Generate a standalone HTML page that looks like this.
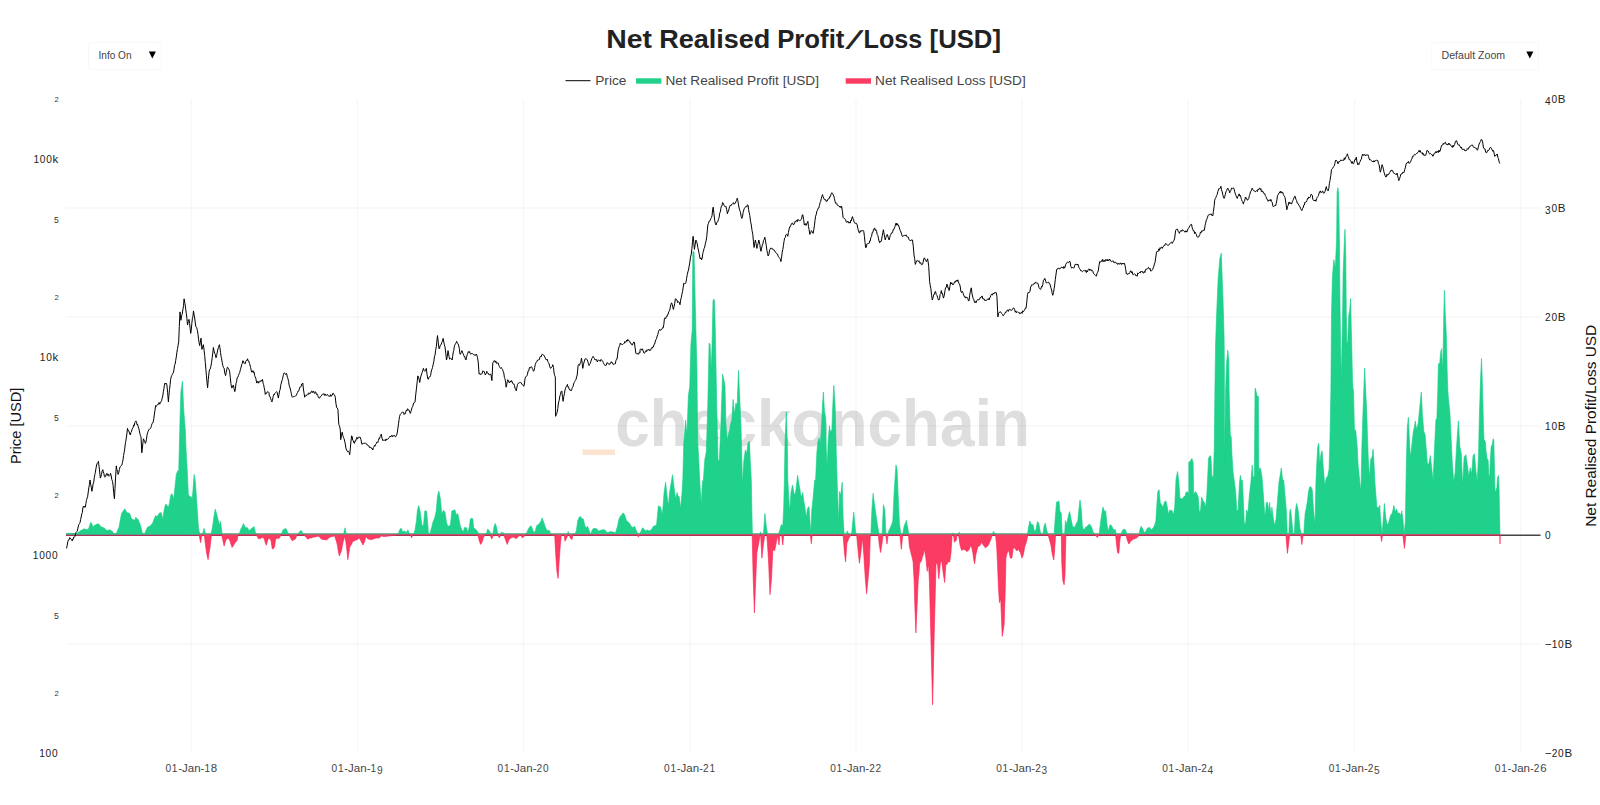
<!DOCTYPE html>
<html lang="en"><head><meta charset="utf-8"><title>Net Realised Profit/Loss [USD]</title>
<style>html,body{margin:0;padding:0;background:#fff;}body{width:1600px;height:805px;position:relative;overflow:hidden;font-family:'Liberation Sans', Arial, sans-serif;}</style>
</head><body>
<svg width="1600" height="805" viewBox="0 0 1600 805" style="position:absolute;left:0;top:0;font-family:'Liberation Sans', Arial, sans-serif"><rect width="1600" height="805" fill="#fff"/><rect x="582.5" y="449.5" width="32.5" height="5.5" fill="#fde4d0"/><text x="615.2" y="445.6" font-size="67" font-weight="700" fill="#dedede" textLength="414.8" lengthAdjust="spacingAndGlyphs">checkonchain</text><line x1="191.3" x2="191.3" y1="99" y2="753" stroke="rgba(0,0,0,0.032)" stroke-width="1.5"/><line x1="357.4" x2="357.4" y1="99" y2="753" stroke="rgba(0,0,0,0.032)" stroke-width="1.5"/><line x1="523.4" x2="523.4" y1="99" y2="753" stroke="rgba(0,0,0,0.032)" stroke-width="1.5"/><line x1="689.9" x2="689.9" y1="99" y2="753" stroke="rgba(0,0,0,0.032)" stroke-width="1.5"/><line x1="856.0" x2="856.0" y1="99" y2="753" stroke="rgba(0,0,0,0.032)" stroke-width="1.5"/><line x1="1022.0" x2="1022.0" y1="99" y2="753" stroke="rgba(0,0,0,0.032)" stroke-width="1.5"/><line x1="1188.1" x2="1188.1" y1="99" y2="753" stroke="rgba(0,0,0,0.032)" stroke-width="1.5"/><line x1="1354.6" x2="1354.6" y1="99" y2="753" stroke="rgba(0,0,0,0.032)" stroke-width="1.5"/><line x1="1520.7" x2="1520.7" y1="99" y2="753" stroke="rgba(0,0,0,0.032)" stroke-width="1.5"/><line x1="66" x2="1540.5" y1="208" y2="208" stroke="rgba(0,0,0,0.032)" stroke-width="1.5"/><line x1="66" x2="1540.5" y1="317" y2="317" stroke="rgba(0,0,0,0.032)" stroke-width="1.5"/><line x1="66" x2="1540.5" y1="426" y2="426" stroke="rgba(0,0,0,0.032)" stroke-width="1.5"/><line x1="66" x2="1540.5" y1="644" y2="644" stroke="rgba(0,0,0,0.032)" stroke-width="1.5"/><line x1="66" x2="1540.5" y1="535.2" y2="535.2" stroke="#444" stroke-width="1.6"/><line x1="66" x2="1500" y1="533.95" y2="533.95" stroke="#5f9d83" stroke-width="1.2"/><line x1="66" x2="1500" y1="535.25" y2="535.25" stroke="#a6335a" stroke-width="1.5"/><path d="M66.6,533.4L67.5,533.4L68.4,533.4L69.4,533.5L70.3,533.4L71.3,533.4L72.2,533.4L73.1,533.4L74.1,533.4L75.0,533.5L75.9,533.5L76.9,533.4L77.8,532.6L78.8,532.0L79.7,531.2L80.6,530.6L81.6,530.3L82.5,529.8L83.4,528.9L84.4,528.8L85.3,529.4L86.3,529.6L87.2,529.6L88.1,529.7L89.1,527.3L90.0,524.2L90.9,522.2L91.9,523.9L92.8,526.9L93.8,526.3L94.7,525.1L95.6,525.0L96.6,524.3L97.5,524.0L98.4,524.1L99.4,524.4L100.3,525.9L101.3,526.9L102.2,527.1L103.1,527.8L104.1,527.8L105.0,528.8L105.9,529.8L106.9,530.6L107.8,530.3L108.8,530.1L109.7,529.7L110.6,530.3L111.6,530.8L112.5,531.6L113.4,533.1L114.4,534.4L115.3,533.9L116.3,533.4L117.2,531.4L118.1,529.2L119.1,526.9L120.3,519.9L121.5,513.8L122.4,511.9L123.4,511.0L124.3,509.2L125.3,509.6L126.4,512.1L127.5,512.8L128.6,513.0L129.8,513.8L131.0,517.4L132.2,519.4L133.1,519.6L134.1,520.3L135.0,519.7L135.9,517.1L136.9,519.3L137.8,518.9L138.8,521.3L139.7,523.2L140.6,525.9L141.6,530.0L142.5,533.4L143.4,533.7L144.4,534.0L145.3,532.1L146.3,529.8L147.2,527.8L148.1,526.8L149.1,526.7L150.0,525.9L150.9,525.4L151.9,523.7L152.8,523.1L153.8,519.8L154.7,517.7L155.6,515.6L156.6,516.6L157.5,515.7L158.4,514.7L159.4,513.0L160.3,512.7L161.3,512.8L162.8,519.4L163.9,511.6L165.0,506.3L165.9,504.0L166.9,505.3L168.4,507.2L169.5,502.9L170.6,495.9L171.6,493.7L172.5,495.0L173.8,498.8L175.0,486.9L176.3,474.4L177.8,470.6L178.7,472.5L180.0,420.0L180.9,391.9L182.4,381.2L183.8,411.2L185.3,429.9L186.0,448.1L187.5,476.3L188.4,495.0L189.4,495.7L190.3,496.9L191.3,496.7L192.2,499.7L193.1,488.4L194.1,474.4L195.4,481.9L196.9,504.4L198.4,526.9L199.7,534.4L202.5,534.4L204.0,528.4L204.9,531.4L205.9,534.4L210.9,534.4L211.9,530.0L212.8,525.0L214.0,516.1L215.3,509.1L216.4,513.0L217.5,517.5L218.4,520.7L219.4,525.0L220.5,521.3L222.2,534.4L239.1,534.4L240.0,531.7L240.9,528.8L242.2,526.7L243.4,523.5L244.5,526.0L245.6,527.8L246.6,527.6L247.5,527.8L248.4,529.5L249.4,530.6L250.3,529.5L251.3,528.8L252.2,527.9L253.1,527.6L254.1,526.5L255.0,530.7L255.9,534.4L281.3,534.4L282.2,532.1L283.1,529.7L284.1,529.6L285.0,528.6L285.9,528.4L286.9,530.4L287.8,532.7L288.8,534.4L297.2,534.4L298.1,533.6L299.1,532.4L300.0,531.2L300.9,530.3L301.9,531.6L302.8,533.3L303.8,534.4L343.5,534.4L345.0,527.8L346.3,534.4L398.1,534.4L399.6,530.0L401.1,528.1L402.8,531.9L403.8,531.3L404.7,530.9L406.0,532.8L406.9,531.4L407.9,530.0L408.8,532.3L409.8,534.4L413.7,534.4L415.0,530.0L416.5,520.6L417.4,510.3L418.8,505.6L420.3,512.2L421.8,524.4L423.4,526.3L424.8,510.9L425.7,510.9L426.6,511.3L427.8,524.4L428.5,534.4L430.0,534.4L430.9,530.0L431.9,526.8L432.8,522.5L433.8,520.1L434.7,517.8L436.2,511.3L437.5,496.3L438.8,491.0L440.3,498.1L441.8,514.1L443.5,510.3L445.0,512.2L446.5,522.5L447.8,526.3L449.0,525.9L450.3,525.3L451.9,510.9L453.4,510.3L454.9,509.8L456.3,515.0L457.8,513.5L459.1,519.7L460.4,526.3L461.9,530.0L463.4,531.5L464.7,527.2L465.6,527.8L466.6,527.8L467.9,532.8L469.4,526.3L470.3,519.1L471.5,518.3L472.8,518.8L473.7,528.1L475.4,529.1L476.6,530.3L477.8,531.9L479.1,534.4L486.3,534.4L487.6,529.1L489.1,530.4L490.4,532.8L491.5,534.4L492.8,534.4L494.1,526.3L495.3,523.4L496.6,527.2L497.9,534.4L500.3,534.4L501.6,532.3L502.6,532.6L503.5,532.8L504.6,534.4L525.6,534.4L526.6,532.9L527.5,530.9L528.4,528.9L529.4,527.2L530.3,526.2L531.3,525.9L532.2,528.6L533.1,530.9L534.6,532.8L535.6,529.8L536.5,526.3L537.4,524.9L538.4,524.4L539.3,524.0L540.3,522.1L541.2,520.7L542.1,517.8L543.8,522.5L544.8,525.4L545.7,528.1L546.7,529.5L547.8,530.9L549.1,530.0L550.0,532.2L550.9,534.4L566.9,534.4L568.2,531.5L569.1,534.4L574.8,534.4L576.3,530.9L577.8,520.6L579.4,516.9L580.7,516.7L581.9,518.8L583.4,519.1L584.7,525.3L586.2,528.1L587.5,526.3L589.0,530.0L590.3,534.4L591.3,532.5L592.2,530.0L593.1,528.9L594.1,528.1L595.0,528.6L595.9,528.6L596.9,529.1L597.8,530.2L598.8,530.9L599.7,530.7L600.6,530.2L601.6,530.0L602.5,529.7L603.4,529.9L604.4,529.6L605.3,530.5L606.3,531.6L607.2,532.8L608.1,532.4L609.1,532.1L610.0,531.5L610.9,531.7L611.9,531.7L612.8,531.9L613.8,532.3L614.7,532.4L615.6,532.8L616.6,529.2L617.5,526.3L619.0,519.1L620.0,516.9L620.9,515.4L621.9,515.0L622.8,513.1L623.8,513.5L624.7,515.0L625.6,518.0L626.6,520.6L627.5,521.7L628.4,521.9L629.4,523.4L630.3,524.5L631.3,526.4L632.2,527.2L633.4,527.2L634.6,526.3L635.8,529.2L636.9,531.9L638.4,534.4L639.3,533.8L640.3,532.8L641.4,530.3L642.5,527.8L643.4,528.5L644.4,529.6L645.3,530.9L646.5,530.2L647.8,530.0L648.9,530.7L650.0,530.9L650.9,529.8L651.9,528.8L652.8,527.2L653.8,526.0L654.7,525.9L655.6,525.3L656.6,524.4L657.5,515.0L658.4,505.6L659.4,507.0L660.3,506.6L661.3,510.2L662.2,515.0L663.1,505.9L664.1,492.5L665.6,482.2L666.9,494.4L668.4,506.6L669.3,495.0L670.3,487.8L671.4,481.5L672.5,474.7L674.0,486.9L675.3,497.2L676.3,496.2L677.2,492.5L678.1,496.6L679.1,496.3L680.6,508.4L681.9,494.4L682.8,479.9L683.8,442.5L684.7,432.7L685.6,420.0L686.9,435.0L688.4,395.6L689.8,386.2L690.9,345.0L692.2,330.0L692.8,255.0L693.1,251.2L694.1,252.2L695.0,292.3L695.9,330.0L696.9,367.5L697.3,405.0L697.8,442.5L698.8,461.2L699.7,480.0L701.2,504.7L702.5,481.3L703.4,480.0L704.8,459.4L706.3,451.9L707.8,405.0L709.1,343.1L710.0,344.1L711.3,371.2L712.4,330.0L713.0,300.9L713.8,299.1L714.5,300.9L715.3,330.0L716.0,367.5L717.1,423.7L718.1,461.2L719.4,459.4L720.9,423.7L722.6,374.1L723.7,378.7L725.0,386.2L725.9,423.7L727.3,440.6L728.8,433.1L729.7,430.2L730.6,423.7L731.9,420.0L733.1,399.4L734.4,414.4L735.9,403.1L737.2,405.0L738.5,370.3L739.6,395.6L740.9,423.7L741.9,461.2L742.4,485.0L743.8,461.2L745.3,450.0L746.6,453.7L748.1,442.5L749.4,441.6L750.3,461.2L751.3,480.0L751.8,507.5L752.4,534.4L759.7,534.4L760.6,531.9L761.6,534.4L763.4,534.4L764.9,513.5L766.3,526.3L767.6,534.4L778.4,534.4L779.8,530.0L781.3,524.4L782.8,526.3L783.7,507.5L784.4,479.9L785.0,442.5L786.3,411.9L787.3,442.5L787.8,480.0L788.8,498.1L789.7,512.2L791.0,492.5L792.5,485.0L794.0,493.4L794.9,494.5L795.9,490.6L797.6,475.3L799.1,485.0L800.0,489.7L800.9,496.3L801.9,495.4L802.8,492.5L803.8,501.0L804.7,505.6L806.2,517.8L807.5,508.4L809.0,506.6L810.3,526.3L810.9,531.9L811.8,510.3L813.1,498.1L814.6,480.3L815.6,480.0L816.9,451.9L817.8,442.5L819.1,437.8L820.3,444.4L821.6,423.7L822.5,405.0L823.4,391.9L824.4,410.6L825.7,418.1L826.3,450.0L827.2,466.9L828.1,442.5L829.4,425.6L830.4,432.2L831.9,429.4L832.8,405.0L833.8,385.3L835.1,405.0L836.0,442.5L837.1,480.0L838.1,507.5L838.8,522.5L839.4,491.6L840.7,495.3L842.2,482.2L843.1,516.9L844.1,534.4L845.9,534.4L847.3,530.9L848.8,534.4L851.6,534.4L852.5,524.4L853.8,512.2L854.9,524.4L855.9,534.4L870.9,534.4L871.8,511.3L873.1,493.4L874.4,503.8L875.9,514.1L877.4,524.4L878.8,532.8L879.7,533.8L880.6,534.4L882.1,534.4L883.4,504.7L884.8,509.4L885.9,533.8L886.8,534.2L887.8,534.4L889.1,530.0L890.0,528.4L890.9,526.3L891.9,524.0L892.8,520.6L894.1,492.5L895.6,470.0L896.0,464.9L897.1,470.0L898.1,494.4L899.4,522.5L900.7,533.8L901.6,534.2L902.6,534.4L904.1,526.3L905.2,523.4L906.3,520.3L907.8,528.1L908.8,534.4L952.1,534.4L953.1,532.8L954.0,534.4L958.5,534.4L959.4,531.9L960.4,534.4L992.3,534.4L993.4,531.5L994.3,532.4L995.3,533.4L996.6,534.4L1027.5,534.4L1028.4,528.1L1029.8,521.0L1031.3,524.4L1032.2,524.7L1033.1,524.8L1034.6,531.9L1035.9,530.0L1037.4,521.6L1038.8,523.4L1040.3,531.9L1041.6,534.4L1042.9,534.4L1044.0,526.3L1045.3,523.1L1046.6,530.0L1048.1,534.4L1054.1,534.4L1055.3,516.9L1056.6,501.9L1057.8,501.9L1059.0,500.9L1059.9,511.3L1061.3,513.1L1062.2,534.4L1064.6,534.4L1065.4,520.6L1066.5,524.4L1067.8,518.8L1068.8,514.1L1069.7,511.6L1071.0,518.8L1072.5,526.3L1073.4,526.9L1074.4,527.2L1075.3,525.9L1076.3,523.4L1077.8,521.0L1079.1,507.5L1080.0,500.0L1081.3,509.4L1082.4,526.3L1083.8,530.0L1084.7,528.9L1085.6,527.2L1086.6,526.8L1087.5,525.9L1088.4,524.8L1089.4,524.0L1090.3,525.4L1091.3,526.3L1092.2,529.1L1093.1,531.9L1094.1,533.3L1095.0,534.4L1099.1,534.4L1100.3,524.4L1101.6,515.0L1102.9,507.1L1104.4,511.3L1105.7,510.9L1106.8,522.5L1108.1,530.9L1109.1,528.2L1110.0,524.8L1110.9,525.0L1111.9,526.3L1112.8,528.3L1113.8,530.0L1115.3,529.6L1116.2,534.4L1120.9,534.4L1122.2,530.9L1123.1,529.7L1124.1,529.1L1125.6,530.0L1126.9,534.4L1139.1,534.4L1140.0,529.1L1141.3,526.3L1142.8,529.1L1144.3,532.8L1146.0,530.9L1147.5,528.1L1148.4,527.8L1149.4,527.2L1150.3,528.6L1151.3,530.0L1152.2,528.9L1153.1,528.1L1154.6,525.3L1155.9,520.6L1156.9,503.8L1157.8,491.6L1159.1,489.7L1160.3,502.8L1161.6,504.7L1163.1,507.5L1164.4,501.9L1165.9,500.9L1167.2,506.6L1168.5,514.1L1170.0,509.8L1170.9,510.7L1171.9,510.3L1173.4,515.0L1174.7,507.5L1176.0,479.4L1177.5,471.5L1178.8,481.3L1179.9,498.1L1180.9,498.6L1181.8,499.1L1182.9,498.2L1184.1,496.3L1185.0,496.7L1185.9,492.5L1187.4,491.6L1188.8,494.4L1188.8,462.2L1190.3,461.3L1191.8,458.4L1193.1,462.2L1193.7,495.0L1195.0,492.2L1195.9,491.7L1196.9,494.1L1198.2,496.9L1199.3,512.8L1200.6,510.0L1201.6,496.9L1202.9,500.6L1204.4,502.5L1205.7,507.2L1206.8,495.0L1207.8,474.4L1208.5,458.4L1210.0,455.6L1210.9,456.6L1211.9,476.3L1213.4,477.2L1214.3,446.3L1214.9,390.0L1215.6,343.1L1216.6,315.0L1218.1,279.4L1219.8,258.7L1221.3,253.1L1222.2,277.5L1223.1,301.9L1224.1,337.5L1224.4,371.2L1224.4,463.1L1225.6,390.0L1226.5,363.7L1227.8,350.2L1228.8,360.0L1229.1,390.0L1229.7,412.5L1230.3,435.0L1231.2,436.9L1231.9,453.8L1233.1,472.5L1234.4,481.9L1235.7,492.2L1236.8,510.9L1238.1,510.0L1239.4,483.8L1240.4,475.3L1241.5,481.9L1242.4,480.0L1243.4,502.5L1244.3,524.1L1245.6,523.1L1246.6,510.0L1247.9,512.8L1249.4,495.0L1250.9,481.9L1252.2,465.0L1253.1,477.2L1254.4,476.3L1255.0,390.0L1255.4,388.1L1256.9,395.6L1258.4,396.6L1258.8,472.5L1259.7,467.7L1260.6,468.8L1262.1,478.1L1263.4,495.0L1264.4,510.0L1265.3,517.5L1266.3,502.5L1267.6,502.5L1268.7,511.9L1269.6,502.5L1270.9,515.6L1271.9,507.2L1273.2,517.5L1274.7,525.9L1276.0,519.4L1277.5,500.6L1279.0,481.9L1280.3,474.4L1281.3,467.8L1282.6,480.0L1283.7,480.0L1285.0,495.0L1286.3,510.0L1287.3,534.4L1288.8,534.4L1289.7,511.9L1290.6,509.1L1291.9,521.3L1293.1,534.4L1294.4,534.4L1295.3,511.9L1296.6,503.4L1298.1,510.0L1299.1,519.0L1300.0,528.8L1301.5,534.4L1303.8,534.4L1305.1,513.8L1306.3,507.9L1307.5,500.6L1308.4,492.4L1309.4,487.5L1310.7,486.6L1312.2,489.4L1313.5,510.0L1315.0,525.0L1315.9,483.8L1316.9,461.3L1317.8,446.3L1318.8,443.4L1319.7,465.0L1321.0,453.8L1322.1,450.9L1323.4,468.8L1324.8,485.6L1326.3,478.1L1327.8,475.9L1329.1,468.8L1330.0,436.9L1330.9,390.0L1331.5,315.0L1332.4,277.5L1333.8,259.7L1335.3,268.1L1336.6,240.0L1337.1,192.2L1337.9,187.7L1338.6,193.1L1339.4,240.0L1339.9,296.2L1340.7,352.5L1341.3,380.6L1341.8,352.5L1342.6,315.0L1343.1,273.7L1344.4,240.0L1345.0,229.3L1345.8,258.7L1346.3,315.0L1346.9,344.1L1347.8,341.2L1348.8,315.0L1349.7,309.4L1350.6,298.5L1351.2,324.4L1351.9,352.5L1352.5,380.6L1353.1,390.0L1353.4,390.0L1354.4,429.4L1355.7,430.3L1357.2,446.3L1358.1,465.0L1359.6,480.0L1360.9,492.2L1361.9,446.3L1362.8,418.1L1363.8,390.0L1364.7,368.1L1365.6,390.0L1366.6,408.8L1367.5,436.9L1368.4,461.3L1369.4,478.1L1370.7,459.4L1372.2,456.6L1373.1,449.1L1374.1,465.0L1375.0,483.8L1375.9,495.0L1376.9,507.2L1378.4,508.1L1379.7,505.3L1380.6,519.4L1382.1,534.4L1383.1,521.3L1384.4,503.4L1385.7,517.5L1387.2,525.0L1388.5,523.1L1390.0,517.5L1390.9,514.8L1391.9,513.8L1392.8,510.9L1393.8,505.3L1395.3,511.9L1396.6,509.1L1398.1,513.8L1399.4,512.8L1400.9,515.6L1401.8,510.9L1403.1,521.3L1404.1,534.4L1405.4,521.3L1406.3,465.0L1407.3,427.5L1408.4,417.2L1409.7,446.3L1410.6,457.5L1412.1,442.5L1413.4,431.3L1414.4,427.1L1415.3,420.9L1416.6,429.4L1418.1,423.8L1419.6,408.8L1421.3,391.9L1422.4,414.4L1423.8,431.3L1425.1,435.0L1426.2,448.1L1427.5,465.0L1429.0,463.1L1430.3,455.6L1431.8,468.8L1433.1,480.9L1434.6,446.3L1435.9,420.0L1436.9,418.1L1437.8,390.0L1438.4,363.7L1439.7,363.7L1440.6,352.5L1441.6,348.7L1442.5,371.2L1443.1,352.5L1443.8,315.0L1444.4,290.2L1445.3,315.0L1446.3,333.7L1447.2,371.2L1447.8,390.0L1448.5,399.4L1450.0,414.4L1451.3,442.5L1452.4,465.0L1453.8,481.9L1455.1,472.5L1456.6,446.3L1457.5,433.1L1458.4,420.9L1459.8,446.3L1461.3,453.8L1462.6,485.6L1464.1,457.5L1465.0,455.7L1465.9,454.7L1467.3,465.0L1468.8,476.3L1470.3,467.8L1471.6,474.4L1473.1,455.6L1474.4,453.8L1475.9,470.6L1477.2,481.9L1478.5,455.6L1479.4,414.4L1479.8,402.5L1480.6,377.5L1481.5,358.5L1482.2,377.5L1482.9,402.5L1483.5,427.5L1484.0,440.0L1484.4,440.0L1485.4,441.9L1486.2,452.5L1487.1,458.8L1488.1,460.0L1488.8,475.0L1489.6,477.5L1490.4,458.8L1491.2,446.2L1492.2,445.0L1493.1,438.8L1493.8,440.0L1494.4,465.0L1495.0,492.5L1496.0,490.0L1496.9,487.5L1497.5,477.5L1498.5,475.6L1499.1,490.0L1499.6,515.0L1500.0,534.4L1500.0,534.4L66.6,534.4Z" fill="#1fd18b" stroke="none"/><path d="M66.6,533.4L67.5,533.4L68.4,533.4L69.4,533.5L70.3,533.4L71.3,533.4L72.2,533.4L73.1,533.4L74.1,533.4L75.0,533.5L75.9,533.5L76.9,533.4L77.8,532.6L78.8,532.0L79.7,531.2L80.6,530.6L81.6,530.3L82.5,529.8L83.4,528.9L84.4,528.8L85.3,529.4L86.3,529.6L87.2,529.6L88.1,529.7L89.1,527.3L90.0,524.2L90.9,522.2L91.9,523.9L92.8,526.9L93.8,526.3L94.7,525.1L95.6,525.0L96.6,524.3L97.5,524.0L98.4,524.1L99.4,524.4L100.3,525.9L101.3,526.9L102.2,527.1L103.1,527.8L104.1,527.8L105.0,528.8L105.9,529.8L106.9,530.6L107.8,530.3L108.8,530.1L109.7,529.7L110.6,530.3L111.6,530.8L112.5,531.6L113.4,533.1L114.4,534.4L115.3,533.9L116.3,533.4L117.2,531.4L118.1,529.2L119.1,526.9L120.3,519.9L121.5,513.8L122.4,511.9L123.4,511.0L124.3,509.2L125.3,509.6L126.4,512.1L127.5,512.8L128.6,513.0L129.8,513.8L131.0,517.4L132.2,519.4L133.1,519.6L134.1,520.3L135.0,519.7L135.9,517.1L136.9,519.3L137.8,518.9L138.8,521.3L139.7,523.2L140.6,525.9L141.6,530.0L142.5,533.4L143.4,533.7L144.4,534.0L145.3,532.1L146.3,529.8L147.2,527.8L148.1,526.8L149.1,526.7L150.0,525.9L150.9,525.4L151.9,523.7L152.8,523.1L153.8,519.8L154.7,517.7L155.6,515.6L156.6,516.6L157.5,515.7L158.4,514.7L159.4,513.0L160.3,512.7L161.3,512.8L162.8,519.4L163.9,511.6L165.0,506.3L165.9,504.0L166.9,505.3L168.4,507.2L169.5,502.9L170.6,495.9L171.6,493.7L172.5,495.0L173.8,498.8L175.0,486.9L176.3,474.4L177.8,470.6L178.7,472.5L180.0,420.0L180.9,391.9L182.4,381.2L183.8,411.2L185.3,429.9L186.0,448.1L187.5,476.3L188.4,495.0L189.4,495.7L190.3,496.9L191.3,496.7L192.2,499.7L193.1,488.4L194.1,474.4L195.4,481.9L196.9,504.4L198.4,526.9L199.7,534.4L202.5,534.4L204.0,528.4L204.9,531.4L205.9,534.4L210.9,534.4L211.9,530.0L212.8,525.0L214.0,516.1L215.3,509.1L216.4,513.0L217.5,517.5L218.4,520.7L219.4,525.0L220.5,521.3L222.2,534.4L239.1,534.4L240.0,531.7L240.9,528.8L242.2,526.7L243.4,523.5L244.5,526.0L245.6,527.8L246.6,527.6L247.5,527.8L248.4,529.5L249.4,530.6L250.3,529.5L251.3,528.8L252.2,527.9L253.1,527.6L254.1,526.5L255.0,530.7L255.9,534.4L281.3,534.4L282.2,532.1L283.1,529.7L284.1,529.6L285.0,528.6L285.9,528.4L286.9,530.4L287.8,532.7L288.8,534.4L297.2,534.4L298.1,533.6L299.1,532.4L300.0,531.2L300.9,530.3L301.9,531.6L302.8,533.3L303.8,534.4L343.5,534.4L345.0,527.8L346.3,534.4L398.1,534.4L399.6,530.0L401.1,528.1L402.8,531.9L403.8,531.3L404.7,530.9L406.0,532.8L406.9,531.4L407.9,530.0L408.8,532.3L409.8,534.4L413.7,534.4L415.0,530.0L416.5,520.6L417.4,510.3L418.8,505.6L420.3,512.2L421.8,524.4L423.4,526.3L424.8,510.9L425.7,510.9L426.6,511.3L427.8,524.4L428.5,534.4L430.0,534.4L430.9,530.0L431.9,526.8L432.8,522.5L433.8,520.1L434.7,517.8L436.2,511.3L437.5,496.3L438.8,491.0L440.3,498.1L441.8,514.1L443.5,510.3L445.0,512.2L446.5,522.5L447.8,526.3L449.0,525.9L450.3,525.3L451.9,510.9L453.4,510.3L454.9,509.8L456.3,515.0L457.8,513.5L459.1,519.7L460.4,526.3L461.9,530.0L463.4,531.5L464.7,527.2L465.6,527.8L466.6,527.8L467.9,532.8L469.4,526.3L470.3,519.1L471.5,518.3L472.8,518.8L473.7,528.1L475.4,529.1L476.6,530.3L477.8,531.9L479.1,534.4L486.3,534.4L487.6,529.1L489.1,530.4L490.4,532.8L491.5,534.4L492.8,534.4L494.1,526.3L495.3,523.4L496.6,527.2L497.9,534.4L500.3,534.4L501.6,532.3L502.6,532.6L503.5,532.8L504.6,534.4L525.6,534.4L526.6,532.9L527.5,530.9L528.4,528.9L529.4,527.2L530.3,526.2L531.3,525.9L532.2,528.6L533.1,530.9L534.6,532.8L535.6,529.8L536.5,526.3L537.4,524.9L538.4,524.4L539.3,524.0L540.3,522.1L541.2,520.7L542.1,517.8L543.8,522.5L544.8,525.4L545.7,528.1L546.7,529.5L547.8,530.9L549.1,530.0L550.0,532.2L550.9,534.4L566.9,534.4L568.2,531.5L569.1,534.4L574.8,534.4L576.3,530.9L577.8,520.6L579.4,516.9L580.7,516.7L581.9,518.8L583.4,519.1L584.7,525.3L586.2,528.1L587.5,526.3L589.0,530.0L590.3,534.4L591.3,532.5L592.2,530.0L593.1,528.9L594.1,528.1L595.0,528.6L595.9,528.6L596.9,529.1L597.8,530.2L598.8,530.9L599.7,530.7L600.6,530.2L601.6,530.0L602.5,529.7L603.4,529.9L604.4,529.6L605.3,530.5L606.3,531.6L607.2,532.8L608.1,532.4L609.1,532.1L610.0,531.5L610.9,531.7L611.9,531.7L612.8,531.9L613.8,532.3L614.7,532.4L615.6,532.8L616.6,529.2L617.5,526.3L619.0,519.1L620.0,516.9L620.9,515.4L621.9,515.0L622.8,513.1L623.8,513.5L624.7,515.0L625.6,518.0L626.6,520.6L627.5,521.7L628.4,521.9L629.4,523.4L630.3,524.5L631.3,526.4L632.2,527.2L633.4,527.2L634.6,526.3L635.8,529.2L636.9,531.9L638.4,534.4L639.3,533.8L640.3,532.8L641.4,530.3L642.5,527.8L643.4,528.5L644.4,529.6L645.3,530.9L646.5,530.2L647.8,530.0L648.9,530.7L650.0,530.9L650.9,529.8L651.9,528.8L652.8,527.2L653.8,526.0L654.7,525.9L655.6,525.3L656.6,524.4L657.5,515.0L658.4,505.6L659.4,507.0L660.3,506.6L661.3,510.2L662.2,515.0L663.1,505.9L664.1,492.5L665.6,482.2L666.9,494.4L668.4,506.6L669.3,495.0L670.3,487.8L671.4,481.5L672.5,474.7L674.0,486.9L675.3,497.2L676.3,496.2L677.2,492.5L678.1,496.6L679.1,496.3L680.6,508.4L681.9,494.4L682.8,479.9L683.8,442.5L684.7,432.7L685.6,420.0L686.9,435.0L688.4,395.6L689.8,386.2L690.9,345.0L692.2,330.0L692.8,255.0L693.1,251.2L694.1,252.2L695.0,292.3L695.9,330.0L696.9,367.5L697.3,405.0L697.8,442.5L698.8,461.2L699.7,480.0L701.2,504.7L702.5,481.3L703.4,480.0L704.8,459.4L706.3,451.9L707.8,405.0L709.1,343.1L710.0,344.1L711.3,371.2L712.4,330.0L713.0,300.9L713.8,299.1L714.5,300.9L715.3,330.0L716.0,367.5L717.1,423.7L718.1,461.2L719.4,459.4L720.9,423.7L722.6,374.1L723.7,378.7L725.0,386.2L725.9,423.7L727.3,440.6L728.8,433.1L729.7,430.2L730.6,423.7L731.9,420.0L733.1,399.4L734.4,414.4L735.9,403.1L737.2,405.0L738.5,370.3L739.6,395.6L740.9,423.7L741.9,461.2L742.4,485.0L743.8,461.2L745.3,450.0L746.6,453.7L748.1,442.5L749.4,441.6L750.3,461.2L751.3,480.0L751.8,507.5L752.4,534.4L759.7,534.4L760.6,531.9L761.6,534.4L763.4,534.4L764.9,513.5L766.3,526.3L767.6,534.4L778.4,534.4L779.8,530.0L781.3,524.4L782.8,526.3L783.7,507.5L784.4,479.9L785.0,442.5L786.3,411.9L787.3,442.5L787.8,480.0L788.8,498.1L789.7,512.2L791.0,492.5L792.5,485.0L794.0,493.4L794.9,494.5L795.9,490.6L797.6,475.3L799.1,485.0L800.0,489.7L800.9,496.3L801.9,495.4L802.8,492.5L803.8,501.0L804.7,505.6L806.2,517.8L807.5,508.4L809.0,506.6L810.3,526.3L810.9,531.9L811.8,510.3L813.1,498.1L814.6,480.3L815.6,480.0L816.9,451.9L817.8,442.5L819.1,437.8L820.3,444.4L821.6,423.7L822.5,405.0L823.4,391.9L824.4,410.6L825.7,418.1L826.3,450.0L827.2,466.9L828.1,442.5L829.4,425.6L830.4,432.2L831.9,429.4L832.8,405.0L833.8,385.3L835.1,405.0L836.0,442.5L837.1,480.0L838.1,507.5L838.8,522.5L839.4,491.6L840.7,495.3L842.2,482.2L843.1,516.9L844.1,534.4L845.9,534.4L847.3,530.9L848.8,534.4L851.6,534.4L852.5,524.4L853.8,512.2L854.9,524.4L855.9,534.4L870.9,534.4L871.8,511.3L873.1,493.4L874.4,503.8L875.9,514.1L877.4,524.4L878.8,532.8L879.7,533.8L880.6,534.4L882.1,534.4L883.4,504.7L884.8,509.4L885.9,533.8L886.8,534.2L887.8,534.4L889.1,530.0L890.0,528.4L890.9,526.3L891.9,524.0L892.8,520.6L894.1,492.5L895.6,470.0L896.0,464.9L897.1,470.0L898.1,494.4L899.4,522.5L900.7,533.8L901.6,534.2L902.6,534.4L904.1,526.3L905.2,523.4L906.3,520.3L907.8,528.1L908.8,534.4L952.1,534.4L953.1,532.8L954.0,534.4L958.5,534.4L959.4,531.9L960.4,534.4L992.3,534.4L993.4,531.5L994.3,532.4L995.3,533.4L996.6,534.4L1027.5,534.4L1028.4,528.1L1029.8,521.0L1031.3,524.4L1032.2,524.7L1033.1,524.8L1034.6,531.9L1035.9,530.0L1037.4,521.6L1038.8,523.4L1040.3,531.9L1041.6,534.4L1042.9,534.4L1044.0,526.3L1045.3,523.1L1046.6,530.0L1048.1,534.4L1054.1,534.4L1055.3,516.9L1056.6,501.9L1057.8,501.9L1059.0,500.9L1059.9,511.3L1061.3,513.1L1062.2,534.4L1064.6,534.4L1065.4,520.6L1066.5,524.4L1067.8,518.8L1068.8,514.1L1069.7,511.6L1071.0,518.8L1072.5,526.3L1073.4,526.9L1074.4,527.2L1075.3,525.9L1076.3,523.4L1077.8,521.0L1079.1,507.5L1080.0,500.0L1081.3,509.4L1082.4,526.3L1083.8,530.0L1084.7,528.9L1085.6,527.2L1086.6,526.8L1087.5,525.9L1088.4,524.8L1089.4,524.0L1090.3,525.4L1091.3,526.3L1092.2,529.1L1093.1,531.9L1094.1,533.3L1095.0,534.4L1099.1,534.4L1100.3,524.4L1101.6,515.0L1102.9,507.1L1104.4,511.3L1105.7,510.9L1106.8,522.5L1108.1,530.9L1109.1,528.2L1110.0,524.8L1110.9,525.0L1111.9,526.3L1112.8,528.3L1113.8,530.0L1115.3,529.6L1116.2,534.4L1120.9,534.4L1122.2,530.9L1123.1,529.7L1124.1,529.1L1125.6,530.0L1126.9,534.4L1139.1,534.4L1140.0,529.1L1141.3,526.3L1142.8,529.1L1144.3,532.8L1146.0,530.9L1147.5,528.1L1148.4,527.8L1149.4,527.2L1150.3,528.6L1151.3,530.0L1152.2,528.9L1153.1,528.1L1154.6,525.3L1155.9,520.6L1156.9,503.8L1157.8,491.6L1159.1,489.7L1160.3,502.8L1161.6,504.7L1163.1,507.5L1164.4,501.9L1165.9,500.9L1167.2,506.6L1168.5,514.1L1170.0,509.8L1170.9,510.7L1171.9,510.3L1173.4,515.0L1174.7,507.5L1176.0,479.4L1177.5,471.5L1178.8,481.3L1179.9,498.1L1180.9,498.6L1181.8,499.1L1182.9,498.2L1184.1,496.3L1185.0,496.7L1185.9,492.5L1187.4,491.6L1188.8,494.4L1188.8,462.2L1190.3,461.3L1191.8,458.4L1193.1,462.2L1193.7,495.0L1195.0,492.2L1195.9,491.7L1196.9,494.1L1198.2,496.9L1199.3,512.8L1200.6,510.0L1201.6,496.9L1202.9,500.6L1204.4,502.5L1205.7,507.2L1206.8,495.0L1207.8,474.4L1208.5,458.4L1210.0,455.6L1210.9,456.6L1211.9,476.3L1213.4,477.2L1214.3,446.3L1214.9,390.0L1215.6,343.1L1216.6,315.0L1218.1,279.4L1219.8,258.7L1221.3,253.1L1222.2,277.5L1223.1,301.9L1224.1,337.5L1224.4,371.2L1224.4,463.1L1225.6,390.0L1226.5,363.7L1227.8,350.2L1228.8,360.0L1229.1,390.0L1229.7,412.5L1230.3,435.0L1231.2,436.9L1231.9,453.8L1233.1,472.5L1234.4,481.9L1235.7,492.2L1236.8,510.9L1238.1,510.0L1239.4,483.8L1240.4,475.3L1241.5,481.9L1242.4,480.0L1243.4,502.5L1244.3,524.1L1245.6,523.1L1246.6,510.0L1247.9,512.8L1249.4,495.0L1250.9,481.9L1252.2,465.0L1253.1,477.2L1254.4,476.3L1255.0,390.0L1255.4,388.1L1256.9,395.6L1258.4,396.6L1258.8,472.5L1259.7,467.7L1260.6,468.8L1262.1,478.1L1263.4,495.0L1264.4,510.0L1265.3,517.5L1266.3,502.5L1267.6,502.5L1268.7,511.9L1269.6,502.5L1270.9,515.6L1271.9,507.2L1273.2,517.5L1274.7,525.9L1276.0,519.4L1277.5,500.6L1279.0,481.9L1280.3,474.4L1281.3,467.8L1282.6,480.0L1283.7,480.0L1285.0,495.0L1286.3,510.0L1287.3,534.4L1288.8,534.4L1289.7,511.9L1290.6,509.1L1291.9,521.3L1293.1,534.4L1294.4,534.4L1295.3,511.9L1296.6,503.4L1298.1,510.0L1299.1,519.0L1300.0,528.8L1301.5,534.4L1303.8,534.4L1305.1,513.8L1306.3,507.9L1307.5,500.6L1308.4,492.4L1309.4,487.5L1310.7,486.6L1312.2,489.4L1313.5,510.0L1315.0,525.0L1315.9,483.8L1316.9,461.3L1317.8,446.3L1318.8,443.4L1319.7,465.0L1321.0,453.8L1322.1,450.9L1323.4,468.8L1324.8,485.6L1326.3,478.1L1327.8,475.9L1329.1,468.8L1330.0,436.9L1330.9,390.0L1331.5,315.0L1332.4,277.5L1333.8,259.7L1335.3,268.1L1336.6,240.0L1337.1,192.2L1337.9,187.7L1338.6,193.1L1339.4,240.0L1339.9,296.2L1340.7,352.5L1341.3,380.6L1341.8,352.5L1342.6,315.0L1343.1,273.7L1344.4,240.0L1345.0,229.3L1345.8,258.7L1346.3,315.0L1346.9,344.1L1347.8,341.2L1348.8,315.0L1349.7,309.4L1350.6,298.5L1351.2,324.4L1351.9,352.5L1352.5,380.6L1353.1,390.0L1353.4,390.0L1354.4,429.4L1355.7,430.3L1357.2,446.3L1358.1,465.0L1359.6,480.0L1360.9,492.2L1361.9,446.3L1362.8,418.1L1363.8,390.0L1364.7,368.1L1365.6,390.0L1366.6,408.8L1367.5,436.9L1368.4,461.3L1369.4,478.1L1370.7,459.4L1372.2,456.6L1373.1,449.1L1374.1,465.0L1375.0,483.8L1375.9,495.0L1376.9,507.2L1378.4,508.1L1379.7,505.3L1380.6,519.4L1382.1,534.4L1383.1,521.3L1384.4,503.4L1385.7,517.5L1387.2,525.0L1388.5,523.1L1390.0,517.5L1390.9,514.8L1391.9,513.8L1392.8,510.9L1393.8,505.3L1395.3,511.9L1396.6,509.1L1398.1,513.8L1399.4,512.8L1400.9,515.6L1401.8,510.9L1403.1,521.3L1404.1,534.4L1405.4,521.3L1406.3,465.0L1407.3,427.5L1408.4,417.2L1409.7,446.3L1410.6,457.5L1412.1,442.5L1413.4,431.3L1414.4,427.1L1415.3,420.9L1416.6,429.4L1418.1,423.8L1419.6,408.8L1421.3,391.9L1422.4,414.4L1423.8,431.3L1425.1,435.0L1426.2,448.1L1427.5,465.0L1429.0,463.1L1430.3,455.6L1431.8,468.8L1433.1,480.9L1434.6,446.3L1435.9,420.0L1436.9,418.1L1437.8,390.0L1438.4,363.7L1439.7,363.7L1440.6,352.5L1441.6,348.7L1442.5,371.2L1443.1,352.5L1443.8,315.0L1444.4,290.2L1445.3,315.0L1446.3,333.7L1447.2,371.2L1447.8,390.0L1448.5,399.4L1450.0,414.4L1451.3,442.5L1452.4,465.0L1453.8,481.9L1455.1,472.5L1456.6,446.3L1457.5,433.1L1458.4,420.9L1459.8,446.3L1461.3,453.8L1462.6,485.6L1464.1,457.5L1465.0,455.7L1465.9,454.7L1467.3,465.0L1468.8,476.3L1470.3,467.8L1471.6,474.4L1473.1,455.6L1474.4,453.8L1475.9,470.6L1477.2,481.9L1478.5,455.6L1479.4,414.4L1479.8,402.5L1480.6,377.5L1481.5,358.5L1482.2,377.5L1482.9,402.5L1483.5,427.5L1484.0,440.0L1484.4,440.0L1485.4,441.9L1486.2,452.5L1487.1,458.8L1488.1,460.0L1488.8,475.0L1489.6,477.5L1490.4,458.8L1491.2,446.2L1492.2,445.0L1493.1,438.8L1493.8,440.0L1494.4,465.0L1495.0,492.5L1496.0,490.0L1496.9,487.5L1497.5,477.5L1498.5,475.6L1499.1,490.0L1499.6,515.0L1500.0,534.4" fill="none" stroke="#10cf84" stroke-width="0.6" stroke-linejoin="round"/><path d="M199.1,534.8L200.6,542.8L201.9,535.3L203.2,535.3L204.4,535.3L205.3,543.5L206.3,551.3L207.2,556.0L208.1,559.7L209.1,552.6L210.0,547.5L211.5,534.8L221.6,534.8L222.8,540.0L224.1,546.0L225.0,542.8L225.9,540.0L226.9,538.9L227.8,538.1L228.8,539.3L229.7,540.0L230.9,544.0L232.1,547.5L233.3,545.8L234.4,543.8L235.3,542.6L236.3,541.4L237.2,540.0L238.1,534.8L255.9,534.8L256.9,536.1L257.8,537.6L258.8,539.1L259.7,538.5L260.6,538.5L261.6,537.7L262.5,537.7L263.4,537.2L264.4,539.5L265.3,542.8L266.3,545.3L267.4,541.5L268.5,538.1L269.7,539.0L270.9,540.0L272.3,549.0L273.5,548.4L274.7,546.6L275.6,539.1L276.6,538.5L277.5,538.3L278.4,538.6L279.4,538.1L280.3,536.4L281.3,534.8L288.8,534.8L289.7,536.2L290.6,538.1L291.6,539.7L292.5,540.9L293.4,540.0L294.4,539.6L295.3,539.1L296.3,536.8L297.2,534.8L303.8,534.8L304.7,535.8L305.6,536.9L306.6,537.8L307.5,539.1L308.4,538.9L309.4,538.2L310.3,538.0L311.3,538.0L312.2,537.5L313.1,537.2L314.1,537.0L315.0,536.9L315.9,536.7L316.9,536.5L317.8,536.3L318.8,536.3L319.7,537.3L320.6,538.4L321.6,539.1L322.5,539.6L323.4,539.6L324.4,539.5L325.3,539.7L326.3,540.0L327.2,539.4L328.1,538.7L329.1,537.7L330.0,537.2L330.9,536.8L331.9,536.6L332.8,536.4L333.8,536.2L334.7,535.9L335.6,538.9L336.6,541.9L337.5,545.8L338.4,552.0L339.4,555.9L340.3,553.4L341.3,551.3L342.2,546.6L343.1,541.9L344.6,536.3L345.9,541.9L346.9,550.1L347.8,559.7L348.8,553.4L349.7,547.5L350.6,545.5L351.6,544.1L352.5,541.9L353.4,541.0L354.4,541.0L355.3,540.2L356.3,540.0L357.2,539.7L358.1,538.8L359.1,538.5L360.0,538.1L360.1,539.4L361.6,542.2L362.9,545.0L364.4,542.2L365.7,536.6L366.9,537.7L368.1,539.0L369.1,539.3L370.0,539.2L370.9,539.8L371.9,539.5L372.8,539.1L373.8,539.0L374.7,538.5L375.6,538.2L376.6,537.9L377.5,538.1L378.4,537.9L379.4,537.9L380.3,537.1L381.3,536.0L382.2,536.1L383.1,536.4L384.1,536.4L385.0,536.6L385.9,536.3L386.9,536.3L387.8,536.2L388.8,536.0L389.7,535.8L390.6,535.8L391.6,535.8L392.5,535.6L393.4,535.5L394.4,535.4L395.3,535.2L396.3,535.1L397.2,535.1L398.1,534.7L410.3,534.7L411.6,537.9L412.8,534.7L477.8,534.7L479.1,540.3L480.6,544.4L482.1,542.2L483.4,537.5L484.4,536.1L485.3,534.7L490.0,534.7L490.9,537.0L491.9,539.0L493.4,534.7L497.5,534.7L498.4,536.4L499.4,537.9L500.9,534.7L503.5,534.7L505.0,538.4L506.1,541.4L507.3,544.4L508.8,540.3L509.9,538.8L511.0,537.9L512.2,537.4L513.4,537.1L514.4,537.7L515.3,538.2L516.3,538.4L517.2,537.7L518.1,536.7L519.1,536.0L520.0,535.6L520.9,535.3L522.3,537.9L523.5,536.9L524.7,536.0L525.6,534.7L551.9,534.7L553.4,536.0L554.7,534.7L555.6,552.5L556.9,571.3L558.1,578.4L559.0,563.8L560.3,545.0L561.3,535.6L562.2,535.2L563.1,534.7L564.1,534.7L565.0,541.3L566.5,538.4L567.8,534.7L569.1,534.7L570.6,538.4L572.1,539.4L572.9,534.7L636.9,534.7L638.4,537.1L639.9,534.7L752.2,534.7L753.1,575.0L754.4,612.9L755.6,582.5L756.9,552.5L758.4,545.0L760.1,534.7L760.6,534.7L761.9,558.1L763.4,545.0L764.8,534.7L766.8,534.7L768.5,560.0L770.0,594.7L771.5,578.8L772.8,550.6L773.8,550.1L774.7,550.6L776.0,544.1L777.5,535.6L779.0,545.0L779.9,534.7L781.6,534.7L782.8,545.0L783.7,534.7L810.3,534.7L811.3,543.7L812.2,534.7L843.1,534.7L844.4,552.5L845.6,561.9L846.9,543.1L847.8,541.2L848.8,538.4L849.9,536.7L851.0,534.7L856.6,534.7L858.1,550.6L859.4,563.2L860.9,552.5L862.4,537.5L863.8,554.4L865.3,578.8L866.6,593.8L868.1,578.8L869.4,563.8L870.3,534.7L878.2,534.7L879.3,545.0L880.6,552.5L881.9,544.1L883.1,534.7L885.7,534.7L887.0,544.1L888.1,534.7L899.9,534.7L901.3,549.3L902.8,534.7L908.4,534.7L909.4,546.9L910.3,549.9L911.3,554.4L912.2,557.4L913.1,561.9L914.1,580.1L915.0,610.6L915.9,632.9L916.9,610.6L918.2,580.1L918.8,575.0L919.7,561.9L920.6,562.3L921.6,560.0L922.5,556.5L923.4,554.4L924.4,548.8L925.9,558.1L927.2,571.3L928.5,563.8L929.4,580.1L930.9,638.8L932.6,704.8L934.1,638.8L935.6,580.1L936.0,563.8L937.5,563.8L938.8,578.8L940.3,563.8L941.6,560.0L943.1,572.2L944.6,582.5L945.9,563.8L946.9,564.6L947.8,561.9L948.8,561.9L949.7,561.9L951.0,552.5L952.1,535.6L953.4,534.7L954.4,542.2L955.3,541.4L956.3,540.3L957.2,534.7L958.5,534.7L960.0,545.0L960.9,548.2L961.9,550.6L962.8,549.7L963.8,549.5L964.7,549.7L965.6,550.1L966.6,551.6L967.8,551.0L969.0,549.7L969.9,547.7L970.9,545.0L971.8,548.0L972.8,552.5L973.7,559.4L974.6,563.8L975.9,554.4L976.9,550.4L977.8,546.9L978.8,546.0L979.7,545.9L980.6,544.0L981.6,542.2L982.5,544.2L983.4,545.0L984.4,546.5L985.3,547.8L986.5,547.1L987.8,545.9L988.7,544.6L989.6,542.2L990.6,540.2L991.5,537.5L992.8,534.7L993.8,535.0L994.7,535.3L995.6,535.6L996.6,545.0L997.5,563.8L998.4,586.3L999.4,602.6L1000.7,598.8L1002.2,636.3L1003.1,631.2L1004.1,625.1L1005.0,598.8L1005.6,575.0L1005.9,558.1L1007.3,552.5L1008.8,550.6L1010.3,558.1L1011.9,558.1L1013.1,548.8L1014.8,547.8L1016.3,550.6L1017.4,550.5L1018.5,548.8L1019.4,551.3L1020.4,552.5L1021.9,558.1L1023.4,554.4L1024.7,546.9L1025.6,544.2L1026.6,541.3L1027.9,534.7L1048.1,534.7L1049.4,539.4L1050.9,545.0L1052.3,554.4L1053.8,560.0L1054.7,548.8L1055.6,534.7L1061.3,534.7L1061.8,563.8L1062.8,580.6L1064.1,584.8L1065.0,575.0L1065.9,534.7L1095.0,534.7L1096.1,536.1L1097.3,537.5L1098.2,536.1L1099.1,534.7L1115.6,534.7L1116.6,545.0L1117.5,552.5L1118.8,553.4L1119.8,541.3L1120.7,534.7L1125.9,534.7L1127.3,540.3L1128.8,544.1L1129.7,542.9L1130.6,541.3L1131.6,540.6L1132.5,539.8L1133.4,539.0L1134.4,539.0L1135.3,538.4L1136.5,538.0L1137.8,537.1L1139.1,534.7L1285.9,534.7L1287.4,553.4L1288.6,544.5L1289.7,534.7L1300.6,534.7L1301.9,544.6L1303.2,534.7L1380.6,534.7L1381.6,541.6L1382.5,534.7L1402.8,534.7L1404.4,548.4L1405.9,534.7L1499.9,534.6L1500.0,544.0L1500.1,534.6L1500.1,534.4L199.1,534.4Z" fill="#fb3b61" stroke="none"/><path d="M199.1,534.8L200.6,542.8L201.9,535.3L203.2,535.3L204.4,535.3L205.3,543.5L206.3,551.3L207.2,556.0L208.1,559.7L209.1,552.6L210.0,547.5L211.5,534.8L221.6,534.8L222.8,540.0L224.1,546.0L225.0,542.8L225.9,540.0L226.9,538.9L227.8,538.1L228.8,539.3L229.7,540.0L230.9,544.0L232.1,547.5L233.3,545.8L234.4,543.8L235.3,542.6L236.3,541.4L237.2,540.0L238.1,534.8L255.9,534.8L256.9,536.1L257.8,537.6L258.8,539.1L259.7,538.5L260.6,538.5L261.6,537.7L262.5,537.7L263.4,537.2L264.4,539.5L265.3,542.8L266.3,545.3L267.4,541.5L268.5,538.1L269.7,539.0L270.9,540.0L272.3,549.0L273.5,548.4L274.7,546.6L275.6,539.1L276.6,538.5L277.5,538.3L278.4,538.6L279.4,538.1L280.3,536.4L281.3,534.8L288.8,534.8L289.7,536.2L290.6,538.1L291.6,539.7L292.5,540.9L293.4,540.0L294.4,539.6L295.3,539.1L296.3,536.8L297.2,534.8L303.8,534.8L304.7,535.8L305.6,536.9L306.6,537.8L307.5,539.1L308.4,538.9L309.4,538.2L310.3,538.0L311.3,538.0L312.2,537.5L313.1,537.2L314.1,537.0L315.0,536.9L315.9,536.7L316.9,536.5L317.8,536.3L318.8,536.3L319.7,537.3L320.6,538.4L321.6,539.1L322.5,539.6L323.4,539.6L324.4,539.5L325.3,539.7L326.3,540.0L327.2,539.4L328.1,538.7L329.1,537.7L330.0,537.2L330.9,536.8L331.9,536.6L332.8,536.4L333.8,536.2L334.7,535.9L335.6,538.9L336.6,541.9L337.5,545.8L338.4,552.0L339.4,555.9L340.3,553.4L341.3,551.3L342.2,546.6L343.1,541.9L344.6,536.3L345.9,541.9L346.9,550.1L347.8,559.7L348.8,553.4L349.7,547.5L350.6,545.5L351.6,544.1L352.5,541.9L353.4,541.0L354.4,541.0L355.3,540.2L356.3,540.0L357.2,539.7L358.1,538.8L359.1,538.5L360.0,538.1L360.1,539.4L361.6,542.2L362.9,545.0L364.4,542.2L365.7,536.6L366.9,537.7L368.1,539.0L369.1,539.3L370.0,539.2L370.9,539.8L371.9,539.5L372.8,539.1L373.8,539.0L374.7,538.5L375.6,538.2L376.6,537.9L377.5,538.1L378.4,537.9L379.4,537.9L380.3,537.1L381.3,536.0L382.2,536.1L383.1,536.4L384.1,536.4L385.0,536.6L385.9,536.3L386.9,536.3L387.8,536.2L388.8,536.0L389.7,535.8L390.6,535.8L391.6,535.8L392.5,535.6L393.4,535.5L394.4,535.4L395.3,535.2L396.3,535.1L397.2,535.1L398.1,534.7L410.3,534.7L411.6,537.9L412.8,534.7L477.8,534.7L479.1,540.3L480.6,544.4L482.1,542.2L483.4,537.5L484.4,536.1L485.3,534.7L490.0,534.7L490.9,537.0L491.9,539.0L493.4,534.7L497.5,534.7L498.4,536.4L499.4,537.9L500.9,534.7L503.5,534.7L505.0,538.4L506.1,541.4L507.3,544.4L508.8,540.3L509.9,538.8L511.0,537.9L512.2,537.4L513.4,537.1L514.4,537.7L515.3,538.2L516.3,538.4L517.2,537.7L518.1,536.7L519.1,536.0L520.0,535.6L520.9,535.3L522.3,537.9L523.5,536.9L524.7,536.0L525.6,534.7L551.9,534.7L553.4,536.0L554.7,534.7L555.6,552.5L556.9,571.3L558.1,578.4L559.0,563.8L560.3,545.0L561.3,535.6L562.2,535.2L563.1,534.7L564.1,534.7L565.0,541.3L566.5,538.4L567.8,534.7L569.1,534.7L570.6,538.4L572.1,539.4L572.9,534.7L636.9,534.7L638.4,537.1L639.9,534.7L752.2,534.7L753.1,575.0L754.4,612.9L755.6,582.5L756.9,552.5L758.4,545.0L760.1,534.7L760.6,534.7L761.9,558.1L763.4,545.0L764.8,534.7L766.8,534.7L768.5,560.0L770.0,594.7L771.5,578.8L772.8,550.6L773.8,550.1L774.7,550.6L776.0,544.1L777.5,535.6L779.0,545.0L779.9,534.7L781.6,534.7L782.8,545.0L783.7,534.7L810.3,534.7L811.3,543.7L812.2,534.7L843.1,534.7L844.4,552.5L845.6,561.9L846.9,543.1L847.8,541.2L848.8,538.4L849.9,536.7L851.0,534.7L856.6,534.7L858.1,550.6L859.4,563.2L860.9,552.5L862.4,537.5L863.8,554.4L865.3,578.8L866.6,593.8L868.1,578.8L869.4,563.8L870.3,534.7L878.2,534.7L879.3,545.0L880.6,552.5L881.9,544.1L883.1,534.7L885.7,534.7L887.0,544.1L888.1,534.7L899.9,534.7L901.3,549.3L902.8,534.7L908.4,534.7L909.4,546.9L910.3,549.9L911.3,554.4L912.2,557.4L913.1,561.9L914.1,580.1L915.0,610.6L915.9,632.9L916.9,610.6L918.2,580.1L918.8,575.0L919.7,561.9L920.6,562.3L921.6,560.0L922.5,556.5L923.4,554.4L924.4,548.8L925.9,558.1L927.2,571.3L928.5,563.8L929.4,580.1L930.9,638.8L932.6,704.8L934.1,638.8L935.6,580.1L936.0,563.8L937.5,563.8L938.8,578.8L940.3,563.8L941.6,560.0L943.1,572.2L944.6,582.5L945.9,563.8L946.9,564.6L947.8,561.9L948.8,561.9L949.7,561.9L951.0,552.5L952.1,535.6L953.4,534.7L954.4,542.2L955.3,541.4L956.3,540.3L957.2,534.7L958.5,534.7L960.0,545.0L960.9,548.2L961.9,550.6L962.8,549.7L963.8,549.5L964.7,549.7L965.6,550.1L966.6,551.6L967.8,551.0L969.0,549.7L969.9,547.7L970.9,545.0L971.8,548.0L972.8,552.5L973.7,559.4L974.6,563.8L975.9,554.4L976.9,550.4L977.8,546.9L978.8,546.0L979.7,545.9L980.6,544.0L981.6,542.2L982.5,544.2L983.4,545.0L984.4,546.5L985.3,547.8L986.5,547.1L987.8,545.9L988.7,544.6L989.6,542.2L990.6,540.2L991.5,537.5L992.8,534.7L993.8,535.0L994.7,535.3L995.6,535.6L996.6,545.0L997.5,563.8L998.4,586.3L999.4,602.6L1000.7,598.8L1002.2,636.3L1003.1,631.2L1004.1,625.1L1005.0,598.8L1005.6,575.0L1005.9,558.1L1007.3,552.5L1008.8,550.6L1010.3,558.1L1011.9,558.1L1013.1,548.8L1014.8,547.8L1016.3,550.6L1017.4,550.5L1018.5,548.8L1019.4,551.3L1020.4,552.5L1021.9,558.1L1023.4,554.4L1024.7,546.9L1025.6,544.2L1026.6,541.3L1027.9,534.7L1048.1,534.7L1049.4,539.4L1050.9,545.0L1052.3,554.4L1053.8,560.0L1054.7,548.8L1055.6,534.7L1061.3,534.7L1061.8,563.8L1062.8,580.6L1064.1,584.8L1065.0,575.0L1065.9,534.7L1095.0,534.7L1096.1,536.1L1097.3,537.5L1098.2,536.1L1099.1,534.7L1115.6,534.7L1116.6,545.0L1117.5,552.5L1118.8,553.4L1119.8,541.3L1120.7,534.7L1125.9,534.7L1127.3,540.3L1128.8,544.1L1129.7,542.9L1130.6,541.3L1131.6,540.6L1132.5,539.8L1133.4,539.0L1134.4,539.0L1135.3,538.4L1136.5,538.0L1137.8,537.1L1139.1,534.7L1285.9,534.7L1287.4,553.4L1288.6,544.5L1289.7,534.7L1300.6,534.7L1301.9,544.6L1303.2,534.7L1380.6,534.7L1381.6,541.6L1382.5,534.7L1402.8,534.7L1404.4,548.4L1405.9,534.7L1499.9,534.6L1500.0,544.0L1500.1,534.6" fill="none" stroke="#fc1f52" stroke-width="0.6" stroke-linejoin="round"/><path d="M66.6,548.4L67.2,545.2L67.8,541.9L68.4,540.0L69.1,539.8L69.7,537.6L70.3,538.1L70.9,539.2L71.6,539.7L72.2,540.9L72.8,538.9L73.3,539.1L73.9,536.9L74.4,537.0L75.0,536.3L75.6,533.6L76.1,532.2L76.7,531.6L77.3,531.1L77.8,528.8L78.4,525.9L78.9,524.3L79.5,523.5L80.1,522.4L80.6,519.4L81.2,517.0L81.8,513.9L82.3,512.7L82.9,507.7L83.4,506.3L84.1,507.5L84.7,506.3L85.3,507.2L85.9,503.5L86.4,500.6L87.0,498.3L87.6,496.8L88.1,493.1L88.8,487.9L89.4,484.6L90.0,480.0L90.6,484.1L91.3,487.2L91.9,491.3L92.5,488.2L93.1,483.9L93.8,481.9L94.3,477.4L94.9,474.4L95.4,472.2L96.0,468.2L96.6,465.0L97.2,463.3L97.8,462.7L98.4,461.3L99.1,466.8L99.7,472.0L100.3,478.1L100.9,476.8L101.5,474.4L102.1,471.1L102.8,469.7L103.3,471.8L103.9,473.5L104.4,476.3L105.0,477.2L105.6,476.5L106.3,474.1L106.9,473.4L107.4,475.4L108.0,473.9L108.6,475.3L109.1,476.3L109.9,475.5L110.6,473.4L111.2,475.6L111.8,479.5L112.5,481.4L113.1,485.6L113.7,492.6L114.4,498.8L115.0,488.5L115.6,477.1L116.3,465.9L116.9,469.7L117.5,471.1L118.1,474.4L118.8,472.4L119.4,469.6L120.0,466.9L120.6,466.5L121.3,465.5L121.9,465.0L122.4,462.7L123.0,459.8L123.6,455.4L124.1,452.7L124.7,449.1L125.3,443.8L125.8,441.3L126.4,437.1L126.9,433.8L127.5,428.4L128.1,430.6L128.6,430.5L129.2,432.1L129.8,434.1L130.3,435.0L130.9,432.3L131.4,431.9L132.0,429.6L132.6,428.0L133.1,427.5L133.7,425.0L134.3,425.6L134.8,422.6L135.4,421.6L135.9,420.9L136.5,422.2L137.1,424.9L137.6,424.3L138.2,426.8L138.8,428.4L139.3,430.7L139.9,433.7L140.4,435.6L141.0,436.9L141.8,452.8L142.3,449.1L142.9,442.9L143.4,438.8L144.1,440.1L144.7,441.5L145.3,443.4L145.9,442.0L146.4,439.8L147.0,435.2L147.6,432.8L148.1,431.3L148.7,429.8L149.3,429.1L149.8,429.0L150.4,428.5L150.9,427.5L151.5,425.5L152.1,423.4L152.6,423.1L153.2,421.9L153.8,418.8L154.4,414.0L155.0,410.2L155.6,405.6L156.2,406.5L156.8,405.4L157.4,404.6L158.0,404.5L158.6,404.3L159.1,402.4L159.7,404.2L160.3,402.8L160.9,402.0L161.6,400.7L162.2,398.1L162.8,395.9L163.3,391.8L163.9,388.9L164.4,385.1L165.0,383.1L165.6,384.1L166.3,383.2L166.9,385.0L167.6,392.3L168.4,401.9L168.9,395.5L169.5,389.7L170.1,384.6L170.6,379.4L171.2,376.9L171.8,375.5L172.3,374.5L172.9,373.1L173.4,372.8L174.0,369.3L174.6,365.2L175.1,364.2L175.7,360.4L176.3,356.9L176.9,352.2L177.5,348.7L178.1,345.2L178.7,341.9L179.3,326.5L180.0,311.9L180.9,320.3L181.6,315.9L182.2,314.3L182.8,310.0L183.5,305.7L184.1,298.8L184.9,303.3L185.6,308.1L186.3,313.7L186.9,318.3L187.5,325.0L188.3,321.2L189.0,319.4L189.6,323.7L190.1,328.1L190.7,333.4L191.3,329.8L191.8,323.6L192.4,318.7L192.9,316.6L193.5,310.9L194.1,315.0L194.7,318.0L195.3,323.0L195.9,326.9L196.7,327.5L197.4,330.6L198.0,334.4L198.6,339.4L199.1,342.8L199.7,345.6L200.3,342.4L201.0,338.1L201.9,349.4L202.7,346.4L203.4,344.7L204.1,350.3L204.7,355.7L205.3,362.5L205.9,369.5L206.4,375.2L207.0,382.2L207.6,387.8L208.3,379.4L209.1,371.9L209.7,369.3L210.3,368.9L210.9,366.3L211.5,362.8L212.2,357.8L212.8,353.0L213.4,347.5L214.0,350.9L214.7,353.3L215.3,354.5L216.0,357.8L216.6,355.7L217.1,353.1L217.7,350.0L218.3,347.8L218.8,346.3L219.4,344.7L219.9,347.6L220.5,352.3L221.1,356.6L221.6,358.8L222.2,362.5L222.8,365.5L223.4,367.5L224.1,368.1L224.8,373.1L225.6,375.6L226.2,372.5L226.8,369.3L227.4,367.2L228.0,367.6L228.6,368.7L229.1,369.9L229.7,371.9L230.3,377.5L230.9,383.5L231.6,387.8L232.2,387.8L232.8,385.9L233.4,385.0L234.1,388.7L234.8,391.6L235.4,388.8L236.0,383.5L236.6,381.4L237.2,377.5L237.8,377.3L238.4,375.7L239.1,373.8L239.7,372.5L240.3,369.9L240.9,368.1L241.6,364.8L242.2,363.9L242.8,360.6L243.4,361.1L244.1,363.3L244.7,363.4L245.3,363.7L245.8,361.3L246.4,360.4L246.9,360.8L247.5,358.8L248.1,360.9L248.8,361.0L249.4,363.4L250.0,365.0L250.6,367.5L251.3,370.9L251.8,372.2L252.4,372.1L252.9,370.6L253.5,372.5L254.1,371.9L254.6,375.4L255.2,376.8L255.8,378.2L256.3,381.0L256.9,383.1L257.4,381.8L258.0,381.1L258.6,383.2L259.1,382.0L259.7,381.3L260.3,380.9L260.8,381.6L261.4,380.0L261.9,380.7L262.5,379.4L263.1,383.2L263.6,384.6L264.2,387.7L264.8,390.8L265.3,394.4L265.9,393.1L266.4,393.5L267.0,392.1L267.6,391.9L268.1,391.6L268.8,392.3L269.4,396.1L270.0,396.3L270.6,398.3L271.3,400.4L271.9,401.9L272.5,400.4L273.1,396.7L273.8,394.4L274.3,394.9L274.9,393.3L275.4,392.8L276.0,392.2L276.6,391.6L277.2,392.5L277.8,395.8L278.4,398.1L279.0,394.3L279.6,390.8L280.1,389.9L280.7,385.3L281.3,383.1L281.8,381.0L282.4,379.6L282.9,377.1L283.5,374.4L284.1,372.8L284.6,373.2L285.2,373.7L285.8,374.7L286.3,373.3L286.9,374.7L287.4,377.3L288.0,378.9L288.6,381.4L289.1,385.1L289.7,386.9L290.3,389.0L290.8,391.2L291.4,393.7L291.9,396.2L292.5,397.2L293.1,396.7L293.8,396.9L294.4,396.3L295.0,396.0L295.6,396.1L296.3,395.3L296.9,393.8L297.5,392.6L298.1,391.0L298.8,390.8L299.4,388.8L300.0,386.9L300.6,387.1L301.1,386.5L301.7,384.0L302.3,384.0L302.8,383.1L303.4,389.0L304.1,393.4L304.7,397.2L305.3,395.8L305.9,395.3L306.6,395.6L307.2,394.2L307.8,394.2L308.4,394.4L309.0,392.7L309.6,393.7L310.1,393.4L310.7,393.2L311.3,391.6L311.8,390.8L312.4,392.4L313.0,392.3L313.6,391.1L314.2,393.1L314.8,393.5L315.4,391.7L315.9,392.5L316.6,394.6L317.2,394.1L317.8,395.3L318.4,397.5L319.1,398.1L319.7,398.1L320.3,396.5L320.8,396.4L321.4,395.9L321.9,394.7L322.5,394.4L323.1,393.7L323.8,394.2L324.4,395.4L325.0,393.8L325.6,395.3L326.3,395.3L326.9,395.3L327.5,394.4L328.1,395.3L328.8,396.3L329.4,396.1L330.0,396.3L330.6,394.6L331.1,396.4L331.7,395.3L332.3,395.2L332.8,393.4L333.4,393.3L334.0,394.7L334.6,395.1L335.3,397.2L335.9,403.1L336.6,407.5L337.2,407.8L337.9,409.4L338.8,424.4L339.6,426.2L340.3,430.0L340.7,439.7L341.4,435.7L342.2,432.2L342.8,435.4L343.4,437.4L344.1,438.8L344.7,441.2L345.3,444.1L345.9,448.1L346.6,450.3L347.2,450.5L347.8,451.9L348.4,451.4L349.1,452.4L349.7,454.7L350.3,448.9L350.9,442.0L351.6,435.9L352.1,436.3L352.7,440.1L353.3,440.8L353.8,442.7L354.4,443.4L355.0,440.8L355.6,441.2L356.3,438.8L356.9,437.3L357.5,439.1L358.1,437.7L358.8,437.1L359.4,437.3L360.0,436.9L361.0,439.7L361.6,443.1L362.1,444.4L362.7,443.5L363.3,442.9L363.8,443.7L364.4,443.4L364.9,443.1L365.5,443.2L366.1,443.7L366.6,443.8L367.2,445.3L367.8,444.9L368.3,445.6L368.9,445.9L369.4,447.5L370.0,447.2L370.6,447.2L371.1,448.3L371.7,448.0L372.3,449.0L372.8,450.0L373.4,447.6L373.9,447.1L374.5,445.4L375.1,446.1L375.6,444.4L376.2,443.8L376.8,442.1L377.3,442.1L377.9,442.5L378.4,440.6L379.0,438.3L379.6,438.8L380.1,436.5L380.7,435.4L381.3,434.1L382.0,438.2L382.8,440.6L383.3,440.1L383.9,440.2L384.4,440.4L385.0,439.7L385.6,440.8L386.1,438.9L386.7,440.0L387.3,439.5L387.8,438.8L388.4,438.7L388.9,437.8L389.5,437.2L390.1,436.1L390.6,436.9L391.2,435.7L391.8,435.4L392.3,436.9L392.9,435.5L393.4,435.9L394.1,435.4L394.7,435.5L395.3,436.9L395.9,436.5L396.6,435.3L397.2,433.1L397.8,428.9L398.5,423.8L399.1,419.4L399.6,416.3L400.2,414.6L400.8,413.8L401.3,413.3L401.9,412.5L402.4,411.8L403.0,412.7L403.6,412.4L404.1,414.5L404.7,413.4L405.3,413.7L405.8,411.7L406.4,410.0L406.9,410.9L407.5,408.8L408.1,409.2L408.6,410.3L409.2,410.3L409.8,412.2L410.3,413.4L410.9,411.7L411.4,410.1L412.0,407.6L412.6,406.7L413.1,405.0L413.8,402.8L414.4,402.5L415.0,402.2L415.8,394.1L416.5,388.1L417.2,381.8L417.8,375.9L418.4,376.9L419.1,379.1L419.7,382.5L420.3,379.2L420.9,376.2L421.6,374.1L422.2,372.4L422.8,370.4L423.4,368.4L424.1,370.5L424.8,371.3L425.5,370.3L426.3,368.4L427.0,374.2L427.8,378.8L428.3,379.3L428.9,377.5L429.4,376.9L430.0,376.9L430.6,375.6L431.3,371.0L431.9,369.4L432.5,367.5L433.1,364.7L433.8,361.9L434.4,356.9L435.0,355.2L435.6,350.6L436.3,346.6L436.9,341.0L437.5,335.6L438.3,342.8L439.0,348.8L439.6,348.4L440.1,345.5L440.7,345.3L441.3,344.1L441.9,342.2L442.5,341.2L443.1,338.4L443.8,342.0L444.4,344.9L445.0,346.9L445.8,353.7L446.5,360.0L447.3,356.3L448.0,350.6L448.6,353.9L449.1,356.8L449.7,359.1L450.3,358.6L450.9,358.3L451.5,358.8L452.1,360.0L452.7,356.1L453.3,351.9L453.8,350.3L454.4,345.9L454.9,344.9L455.5,343.9L456.1,342.8L456.6,341.3L457.3,343.0L457.9,343.7L458.5,345.0L459.3,348.4L460.0,354.4L460.6,353.9L461.3,352.5L461.9,350.6L462.5,352.2L463.1,353.8L463.8,355.3L464.3,356.9L464.9,356.5L465.4,359.4L466.0,360.0L466.6,357.2L467.2,354.7L467.8,353.1L468.4,351.6L469.0,352.5L469.6,351.5L470.1,353.3L470.7,354.3L471.3,353.4L471.8,353.6L472.4,353.5L472.9,353.9L473.5,354.7L474.1,354.4L474.6,355.3L475.2,355.1L475.8,355.3L476.3,354.0L476.9,355.3L477.5,357.7L478.2,361.9L479.1,374.1L479.7,373.4L480.3,374.7L481.0,373.6L481.6,374.1L482.2,373.3L482.8,370.9L483.4,371.3L484.1,371.4L484.7,373.1L485.3,375.0L486.1,373.6L486.8,371.3L487.4,372.7L487.9,373.6L488.5,373.5L489.1,375.0L489.7,374.7L490.3,374.3L490.9,374.1L491.9,380.6L492.8,362.8L493.4,362.1L494.1,360.6L494.7,360.9L495.3,362.3L495.8,360.9L496.4,363.3L496.9,363.6L497.5,362.8L498.1,362.8L498.8,365.2L499.4,366.6L500.0,367.7L500.6,368.4L501.3,367.5L501.9,368.6L502.5,369.4L503.1,371.3L503.8,373.0L504.4,377.4L505.0,378.8L505.6,382.2L506.1,387.2L506.7,384.9L507.3,381.3L507.8,379.7L508.4,380.7L509.1,382.7L509.7,382.5L510.3,380.9L510.9,382.1L511.6,380.6L512.1,381.6L512.7,383.5L513.3,384.0L513.8,383.7L514.4,385.3L515.0,388.2L515.6,389.0L516.3,390.9L516.9,387.2L517.5,384.6L518.1,383.4L518.8,383.1L519.4,382.7L520.0,382.5L520.6,382.6L521.3,382.8L521.9,384.4L522.5,384.6L523.1,385.1L523.8,386.3L524.4,384.0L525.0,378.7L525.6,376.9L526.3,376.6L526.9,375.9L527.5,374.1L528.1,370.9L528.8,370.8L529.4,367.5L530.0,367.7L530.6,367.9L531.3,366.6L531.8,367.2L532.4,368.6L532.9,369.8L533.5,371.3L534.1,370.4L534.7,367.3L535.3,364.6L535.9,362.8L536.5,362.1L537.1,361.1L537.6,360.0L538.2,359.5L538.8,360.0L539.4,359.6L540.0,356.9L540.6,356.3L541.2,356.9L541.8,354.7L542.3,354.2L542.9,354.4L543.5,355.3L544.1,355.4L544.7,356.9L545.3,358.1L545.9,359.6L546.6,359.7L547.2,359.1L547.8,361.4L548.4,362.5L549.1,363.8L549.7,366.4L550.3,368.0L550.9,368.4L551.6,367.3L552.2,366.5L552.8,364.7L553.5,367.7L554.1,373.1L554.7,375.6L555.3,376.9L555.6,416.3L556.4,414.2L557.1,412.5L557.8,408.5L558.4,403.1L559.1,400.7L559.7,396.9L560.3,394.7L561.1,391.6L561.8,390.9L562.5,397.2L563.1,401.3L563.8,396.5L564.4,393.7L565.0,390.0L565.6,388.2L566.2,386.7L566.8,386.4L567.4,384.4L568.0,387.2L568.6,386.9L569.1,389.1L569.8,390.1L570.4,389.8L571.0,390.9L571.7,389.5L572.4,387.5L573.1,386.3L573.6,384.0L574.2,382.6L574.8,381.3L575.3,380.6L575.9,379.8L576.6,376.9L577.2,375.0L578.1,365.6L578.8,364.3L579.4,365.4L580.0,363.8L580.8,362.2L581.5,358.1L582.2,363.2L582.8,368.4L583.4,364.7L584.1,362.0L584.7,360.0L585.3,358.6L585.9,359.0L586.6,359.1L587.2,359.6L587.8,361.7L588.4,363.4L589.0,365.6L589.6,364.4L590.1,363.8L590.7,362.1L591.3,360.0L591.9,358.5L592.5,357.3L593.1,356.3L593.8,357.6L594.4,358.4L595.0,360.0L595.6,359.8L596.1,359.2L596.7,360.0L597.3,362.0L597.8,360.9L598.4,359.8L599.1,360.6L599.7,360.8L600.3,361.3L600.9,359.4L601.6,360.0L602.1,360.3L602.7,361.2L603.3,362.6L603.8,363.6L604.4,364.7L605.0,365.7L605.6,365.3L606.3,365.2L606.9,362.8L607.5,362.7L608.1,363.8L608.8,364.1L609.4,364.5L610.0,363.2L610.6,363.4L611.3,361.7L611.9,362.8L612.4,362.7L613.0,364.3L613.6,364.2L614.1,364.5L614.7,363.8L615.3,363.8L615.9,360.8L616.5,359.2L617.1,359.1L617.8,353.0L618.4,348.8L619.1,346.9L619.7,345.5L620.3,343.1L620.9,344.5L621.4,344.1L622.0,344.1L622.6,344.6L623.1,344.1L623.7,343.5L624.3,343.3L624.8,341.5L625.4,342.2L626.0,342.2L626.6,340.1L627.2,341.2L627.8,339.4L628.4,340.7L629.0,340.7L629.6,341.2L630.3,343.1L630.8,342.9L631.4,344.4L631.9,345.0L632.5,345.0L633.1,343.1L633.8,342.0L634.4,342.2L635.1,347.9L635.9,353.4L636.4,353.9L637.0,353.6L637.6,353.4L638.1,354.4L638.8,354.0L639.4,351.9L640.0,352.5L640.1,349.7L640.7,348.9L641.3,349.1L641.9,350.2L642.5,348.8L643.1,350.7L643.8,352.9L644.4,353.4L644.9,352.6L645.5,351.2L646.1,350.5L646.6,351.6L647.2,349.7L647.8,350.4L648.3,349.6L648.9,349.0L649.4,350.4L650.0,350.6L650.6,350.3L651.1,348.9L651.7,347.7L652.3,348.1L652.8,346.9L653.4,347.0L654.1,344.3L654.7,344.1L655.3,341.0L655.9,339.9L656.6,338.4L657.2,336.0L657.8,334.5L658.4,331.9L659.2,329.9L659.9,329.4L660.3,330.0L660.9,330.4L661.4,329.9L662.0,328.9L662.6,327.7L663.1,328.1L663.8,324.7L664.4,318.8L665.0,317.8L665.7,318.6L666.3,316.6L666.9,316.9L667.4,314.7L668.0,314.7L668.6,312.1L669.1,311.3L669.7,310.3L670.3,307.0L671.0,304.1L671.6,302.8L672.2,304.3L672.8,307.0L673.4,309.4L674.1,306.4L674.7,303.7L675.3,299.1L675.9,298.7L676.4,299.9L677.0,300.0L677.6,302.5L678.1,301.9L678.8,301.9L679.4,302.6L680.0,304.7L680.6,300.1L681.3,297.5L681.9,294.4L682.5,291.7L683.1,287.9L683.8,283.1L684.3,283.5L684.9,284.0L685.4,283.5L686.0,282.2L686.6,278.3L687.3,274.5L687.9,271.9L688.5,269.9L689.1,266.3L689.8,262.5L690.5,257.1L691.3,254.1L691.9,248.6L692.5,241.9L693.1,236.3L693.8,242.5L694.4,249.4L695.2,244.3L695.9,240.0L696.6,241.6L697.2,243.7L697.8,247.5L698.4,250.1L699.1,253.4L699.7,256.9L700.3,259.0L700.9,257.8L701.6,259.7L702.2,258.1L702.8,253.3L703.4,251.3L704.1,248.4L704.7,247.1L705.3,243.8L706.1,240.8L706.8,236.3L707.8,225.0L708.4,223.6L709.0,221.3L709.6,221.3L710.3,219.9L710.9,218.4L711.5,217.5L712.1,215.2L712.6,209.8L713.2,207.2L713.9,213.4L714.7,220.3L715.4,223.7L716.2,225.0L716.8,222.4L717.3,222.0L717.9,221.6L718.4,219.4L719.1,217.6L719.7,213.2L720.3,211.9L720.9,208.3L721.4,206.1L722.0,205.9L722.6,202.5L723.3,203.3L724.1,205.3L724.7,206.3L725.3,207.0L725.9,206.3L726.7,209.6L727.4,213.8L728.0,211.3L728.6,211.2L729.1,208.4L729.7,206.3L730.3,205.2L730.9,205.9L731.5,204.4L732.1,204.4L732.8,203.6L733.4,202.6L734.1,204.3L734.8,203.4L735.4,203.2L736.0,201.2L736.6,200.7L737.2,198.2L737.8,200.3L738.4,204.1L739.1,208.1L739.8,210.4L740.6,212.8L741.2,216.8L741.9,218.4L742.5,216.8L743.1,212.5L743.8,210.0L744.3,208.4L744.9,207.9L745.4,207.2L746.0,206.3L746.7,207.1L747.4,204.8L748.1,205.3L748.6,209.5L749.2,212.8L749.8,215.6L750.5,221.2L751.3,225.0L752.0,230.4L752.8,234.4L753.4,241.2L754.1,247.5L754.7,243.3L755.4,240.0L756.1,243.7L756.9,248.4L757.5,245.3L758.1,243.5L758.8,240.0L759.3,241.7L759.9,244.8L760.4,249.1L761.0,251.3L761.6,248.1L762.3,245.1L762.9,243.8L763.5,240.4L764.1,239.5L764.8,237.2L765.5,241.0L766.3,245.6L766.9,250.3L767.5,253.5L768.1,255.9L768.8,255.0L769.4,251.0L770.0,249.4L770.6,248.1L771.1,247.9L771.7,248.7L772.3,248.4L772.9,249.7L773.5,249.7L774.1,249.9L774.7,251.3L775.3,251.6L775.8,252.7L776.4,253.4L776.9,254.1L777.5,254.1L778.1,256.2L778.8,257.0L779.4,257.8L780.1,258.7L780.9,261.6L781.5,258.4L782.1,252.9L782.8,249.4L783.4,245.8L784.0,241.5L784.6,238.1L785.3,237.5L785.9,234.8L786.5,234.4L787.2,234.7L787.8,236.3L788.4,232.5L789.1,229.1L789.7,226.9L790.3,226.9L790.9,225.2L791.5,223.6L792.1,223.1L792.8,223.2L793.4,225.0L794.0,224.1L794.6,223.1L795.1,221.5L795.7,222.1L796.3,220.3L796.8,220.7L797.4,221.6L797.9,219.3L798.5,220.2L799.1,220.3L799.7,220.8L800.3,220.6L800.9,219.4L801.6,218.9L802.2,215.1L802.8,214.7L803.6,219.3L804.3,225.0L804.9,223.8L805.4,223.7L806.0,225.5L806.6,224.1L807.2,222.9L807.9,221.3L808.5,226.7L809.1,229.7L809.8,234.4L810.5,233.5L811.3,230.6L811.9,231.4L812.5,231.9L813.1,233.4L813.8,229.8L814.4,225.8L815.0,220.3L815.6,216.2L816.3,214.3L816.9,210.9L817.5,210.3L818.1,208.3L818.8,208.1L819.4,205.6L820.0,202.8L820.6,201.6L821.3,198.5L821.9,196.3L822.5,194.6L823.1,196.6L823.8,198.4L824.4,199.7L825.0,199.5L825.6,199.7L826.3,201.6L826.8,200.6L827.4,200.9L827.9,199.1L828.5,198.8L829.1,198.8L829.7,196.6L830.3,196.7L830.9,194.7L831.5,193.1L832.1,192.7L832.6,193.5L833.2,195.0L833.8,195.9L834.4,198.6L835.0,201.3L835.6,203.4L836.2,202.8L836.8,203.5L837.3,205.4L837.9,205.3L838.5,205.7L839.1,206.0L839.8,207.2L840.4,206.4L841.0,207.7L841.6,206.3L842.4,211.4L843.1,217.5L843.8,218.3L844.4,218.4L845.0,219.4L845.6,219.7L846.1,221.4L846.7,222.4L847.3,221.3L847.8,222.2L848.4,221.6L849.0,223.2L849.6,222.1L850.3,223.1L850.8,220.2L851.4,220.9L851.9,218.0L852.5,216.6L853.1,219.0L853.6,219.6L854.2,222.5L854.8,223.1L855.4,223.3L856.0,222.9L856.6,224.1L857.2,224.9L857.8,228.4L858.5,230.8L859.1,232.5L859.6,233.2L860.2,230.7L860.8,231.7L861.3,230.7L861.9,230.6L862.5,230.9L863.1,230.3L863.8,231.6L864.4,236.3L865.0,242.2L865.6,247.5L866.3,247.4L866.9,244.0L867.5,243.8L868.1,243.2L868.6,243.4L869.2,243.3L869.8,240.7L870.3,240.9L870.9,237.2L871.6,236.5L872.2,232.5L872.8,232.5L873.4,230.0L874.1,228.8L874.7,227.9L875.3,230.5L875.9,229.7L876.6,231.3L877.2,234.5L877.8,235.3L878.4,238.1L879.1,241.2L879.7,242.8L880.3,241.0L880.9,241.7L881.6,240.0L882.2,235.8L882.8,232.9L883.4,229.7L884.1,234.0L884.7,237.4L885.3,240.0L885.9,237.3L886.6,235.5L887.2,234.4L887.8,236.0L888.4,238.2L889.1,240.0L889.7,237.8L890.3,235.3L890.9,234.4L891.5,232.8L892.1,233.1L892.6,232.6L893.2,229.4L893.8,229.7L894.4,228.0L895.0,226.6L895.6,224.1L896.2,223.0L896.8,225.3L897.3,223.6L897.9,225.1L898.4,225.0L899.1,227.0L899.7,229.1L900.3,230.6L900.9,232.0L901.6,234.2L902.2,236.3L902.8,236.3L903.3,235.7L903.9,236.1L904.4,235.4L905.0,235.3L905.6,235.5L906.1,234.8L906.7,236.7L907.3,236.8L907.8,237.2L908.4,237.2L908.9,239.4L909.5,240.2L910.1,240.1L910.6,240.9L911.3,239.8L911.9,240.2L912.5,240.0L913.3,246.5L914.0,255.0L914.7,258.7L915.3,264.4L915.9,262.9L916.6,260.8L917.2,260.6L917.8,260.8L918.3,261.4L918.9,260.6L919.4,262.5L920.0,262.5L920.1,263.4L920.7,262.6L921.3,264.5L921.9,264.9L922.5,264.4L923.1,262.2L923.8,258.8L924.4,257.8L925.0,259.1L925.6,260.0L926.3,261.6L926.9,261.3L927.6,258.8L928.1,261.6L928.7,266.3L929.6,281.3L930.3,285.9L930.9,288.8L931.6,295.7L932.3,300.0L933.0,297.8L933.8,294.4L934.4,294.3L935.0,291.7L935.6,291.6L936.3,294.7L936.9,295.3L937.5,297.2L938.3,299.8L939.0,300.0L939.6,298.7L940.1,294.4L940.7,293.7L941.3,290.6L941.8,293.6L942.4,293.2L942.9,295.9L943.5,298.1L944.3,295.0L945.0,290.6L945.6,287.6L946.3,287.3L946.9,284.1L947.4,285.1L948.0,288.2L948.6,288.1L949.1,290.6L949.9,286.4L950.6,282.2L951.2,284.0L951.8,282.8L952.3,283.7L952.9,285.0L953.5,284.3L954.1,283.1L954.7,281.7L955.3,282.2L955.9,280.8L956.5,280.1L957.1,281.5L957.8,279.8L958.4,281.7L959.0,283.7L959.6,284.1L960.3,287.0L960.9,291.6L961.6,292.6L962.2,291.2L962.8,292.5L963.4,294.1L964.1,296.0L964.7,297.2L965.3,296.8L965.9,298.2L966.5,297.3L967.1,297.2L967.8,298.6L968.4,300.7L969.0,300.9L969.7,295.2L970.3,291.6L971.3,287.8L972.0,293.8L972.8,297.2L973.3,298.9L973.9,299.7L974.4,302.2L975.0,302.8L975.6,301.5L976.1,302.7L976.7,300.9L977.3,300.0L977.9,299.4L978.5,300.2L979.1,299.1L979.7,299.1L980.3,297.3L980.9,297.8L981.6,296.3L982.2,296.0L982.8,299.0L983.4,299.1L984.0,298.6L984.6,299.8L985.1,300.9L985.7,300.0L986.3,300.0L986.8,300.4L987.4,299.5L987.9,298.7L988.5,298.8L989.1,300.0L989.6,297.7L990.2,297.5L990.8,295.6L991.3,294.4L991.9,294.3L992.5,295.2L993.1,293.1L993.8,294.0L994.4,292.7L995.0,293.1L995.6,292.1L996.3,292.9L996.9,296.3L997.9,316.9L998.6,313.2L999.4,312.2L1000.0,312.1L1000.6,311.8L1001.3,313.1L1001.9,313.7L1002.5,314.3L1003.1,315.9L1003.8,315.2L1004.4,314.3L1005.0,313.1L1005.6,311.8L1006.1,312.3L1006.7,311.4L1007.3,309.9L1007.8,310.3L1008.4,311.4L1008.9,309.6L1009.5,309.4L1010.1,309.3L1010.6,310.3L1011.3,310.2L1011.9,310.3L1012.5,309.6L1013.2,308.1L1013.8,307.9L1014.6,309.4L1015.3,312.2L1015.9,310.9L1016.4,312.6L1017.0,312.4L1017.6,311.8L1018.1,312.2L1018.7,312.8L1019.3,312.4L1019.8,313.9L1020.4,313.5L1020.9,313.1L1021.5,312.1L1022.1,313.4L1022.6,310.8L1023.2,311.7L1023.8,311.3L1024.3,310.3L1024.9,309.2L1025.4,308.0L1026.0,308.4L1026.8,302.1L1027.5,294.4L1028.1,292.4L1028.8,293.0L1029.4,292.1L1030.0,291.2L1030.6,287.1L1031.3,285.9L1031.8,284.7L1032.4,285.2L1032.9,284.5L1033.5,284.4L1034.1,283.5L1034.6,284.1L1035.2,282.3L1035.8,282.4L1036.3,282.8L1037.0,283.0L1037.7,283.1L1038.4,285.0L1039.0,287.5L1039.6,288.6L1040.3,289.3L1040.9,289.1L1041.5,286.4L1042.1,286.9L1042.8,284.5L1043.4,280.3L1044.1,280.0L1044.8,278.4L1045.4,279.9L1046.0,282.2L1046.6,283.1L1047.2,283.0L1047.8,282.4L1048.5,282.1L1049.1,283.1L1049.7,284.0L1050.3,285.1L1050.9,287.8L1051.6,289.9L1052.2,293.5L1052.8,295.3L1053.5,292.5L1054.1,288.8L1054.7,285.0L1055.3,279.4L1055.9,275.2L1056.6,270.0L1057.2,268.8L1057.8,268.9L1058.4,268.1L1059.1,268.1L1059.7,269.1L1060.3,268.5L1060.9,268.1L1061.6,267.0L1062.2,267.2L1062.8,267.6L1063.3,268.4L1063.9,266.5L1064.4,268.2L1065.0,267.2L1065.6,264.7L1066.1,264.0L1066.7,262.7L1067.3,262.1L1067.9,262.5L1068.5,262.7L1069.1,261.9L1069.7,261.0L1070.3,262.9L1070.9,266.7L1071.6,268.1L1072.2,267.7L1072.8,267.4L1073.4,268.1L1074.1,267.8L1074.7,265.7L1075.3,264.0L1075.9,264.5L1076.5,264.4L1077.1,265.2L1077.8,264.0L1078.3,265.2L1078.9,267.4L1079.4,268.3L1080.0,269.1L1080.6,270.7L1081.3,270.4L1081.9,271.3L1082.4,271.8L1083.0,271.3L1083.6,270.6L1084.1,270.3L1084.7,270.9L1085.3,271.4L1085.8,270.2L1086.4,272.6L1086.9,270.8L1087.5,271.9L1088.1,269.7L1088.8,269.0L1089.4,269.1L1089.9,270.6L1090.5,269.6L1091.1,269.5L1091.6,270.9L1092.2,270.4L1092.8,271.2L1093.5,273.5L1094.1,273.8L1094.7,274.7L1095.3,275.4L1095.9,276.1L1096.5,276.0L1097.1,272.9L1097.8,272.2L1098.4,270.0L1099.0,265.4L1099.7,261.6L1100.3,262.1L1100.9,261.8L1101.6,260.6L1102.1,261.6L1102.7,259.3L1103.3,261.4L1103.8,261.4L1104.4,260.3L1104.9,261.6L1105.5,259.5L1106.1,259.9L1106.6,259.8L1107.2,261.0L1107.8,259.3L1108.4,261.0L1109.0,260.4L1109.6,259.1L1110.2,260.1L1110.8,261.2L1111.3,261.3L1111.9,261.6L1112.4,261.2L1113.0,260.9L1113.6,261.1L1114.1,263.0L1114.7,262.5L1115.3,262.1L1115.8,262.8L1116.4,263.4L1116.9,262.8L1117.5,264.4L1118.1,263.6L1118.6,263.4L1119.2,264.4L1119.8,263.3L1120.3,263.4L1120.9,262.9L1121.4,264.5L1122.0,263.2L1122.6,264.1L1123.1,263.1L1123.8,264.1L1124.4,263.3L1125.0,265.3L1125.7,269.3L1126.3,273.8L1126.9,273.6L1127.5,274.5L1128.1,273.4L1128.8,273.8L1129.3,273.6L1129.9,272.4L1130.4,270.9L1131.0,270.9L1131.6,272.8L1132.2,271.7L1132.8,274.6L1133.4,274.7L1134.1,274.0L1134.7,273.8L1135.4,274.5L1136.0,276.1L1136.6,275.6L1137.2,276.2L1137.8,272.9L1138.5,273.5L1139.1,272.8L1139.6,272.5L1140.2,273.1L1140.8,271.2L1141.3,271.7L1141.9,271.5L1142.5,271.5L1143.1,273.2L1143.8,272.8L1144.3,271.4L1144.9,272.5L1145.4,270.0L1146.0,269.1L1146.6,269.1L1147.2,269.3L1147.8,268.6L1148.4,267.3L1149.0,268.1L1149.6,269.2L1150.1,268.4L1150.7,271.0L1151.3,270.9L1151.9,270.5L1152.5,269.8L1153.1,268.1L1153.8,266.6L1154.4,264.0L1155.0,262.5L1155.8,257.1L1156.5,252.2L1157.1,251.3L1157.8,252.0L1158.4,250.3L1158.9,248.8L1159.5,250.4L1160.1,247.7L1160.6,248.4L1161.2,247.3L1161.8,247.1L1162.3,248.4L1162.9,246.9L1163.4,246.6L1164.1,245.3L1164.7,245.7L1165.3,243.8L1165.9,243.4L1166.5,244.4L1167.1,245.0L1167.8,245.3L1168.3,245.4L1168.9,245.0L1169.4,244.2L1170.0,243.4L1170.6,242.8L1171.1,242.5L1171.7,241.8L1172.3,243.4L1172.8,242.3L1173.4,241.3L1174.1,240.1L1174.7,238.1L1175.6,230.6L1176.3,229.3L1176.9,229.5L1177.5,229.1L1178.1,231.3L1178.8,232.2L1179.4,233.4L1180.0,231.4L1180.6,231.2L1181.3,230.3L1181.8,231.4L1182.4,229.9L1182.9,229.9L1183.5,230.3L1184.1,231.0L1184.6,231.8L1185.2,232.3L1185.8,230.8L1186.3,231.0L1186.9,232.1L1187.5,230.0L1188.1,228.8L1188.8,227.8L1189.3,227.2L1189.9,225.6L1190.4,225.3L1191.0,224.3L1191.6,224.4L1192.2,227.9L1192.8,229.4L1193.4,231.0L1194.0,230.6L1194.6,233.6L1195.1,232.0L1195.7,233.4L1196.3,234.4L1196.9,236.6L1197.5,237.0L1198.1,237.2L1198.8,236.9L1199.4,235.1L1200.0,234.4L1200.1,233.1L1200.7,231.9L1201.3,232.5L1201.9,230.7L1202.5,231.3L1203.1,230.2L1203.8,230.3L1204.4,230.3L1205.0,225.7L1205.6,223.2L1206.3,220.0L1206.9,219.2L1207.5,217.4L1208.1,215.3L1208.8,214.9L1209.4,214.8L1210.0,214.0L1210.6,214.3L1211.1,213.8L1211.7,215.4L1212.3,215.3L1212.8,215.9L1213.4,211.3L1214.1,206.6L1214.7,200.3L1215.3,198.6L1215.9,197.4L1216.6,195.6L1217.2,194.4L1217.8,191.7L1218.4,190.0L1219.0,188.4L1219.7,188.7L1220.3,188.2L1220.9,186.3L1221.5,189.8L1222.2,191.9L1222.8,194.6L1223.4,197.2L1224.1,198.4L1224.7,196.7L1225.3,194.4L1225.9,191.9L1226.6,190.5L1227.2,188.9L1227.8,188.1L1228.4,190.0L1229.1,190.2L1229.7,192.8L1230.3,191.0L1230.9,190.4L1231.6,188.1L1232.2,188.6L1232.8,188.2L1233.4,187.8L1234.1,189.1L1234.7,191.6L1235.3,193.8L1235.9,195.2L1236.6,197.2L1237.2,198.4L1237.8,196.6L1238.4,195.8L1239.1,193.8L1239.7,196.1L1240.3,195.4L1240.9,197.5L1241.5,199.5L1242.2,201.5L1242.8,202.1L1243.4,204.1L1244.0,201.8L1244.6,200.9L1245.3,197.5L1245.8,197.0L1246.4,199.0L1246.9,198.7L1247.5,200.3L1248.1,199.5L1248.8,198.3L1249.4,195.6L1249.9,194.2L1250.5,191.6L1251.1,191.3L1251.6,189.7L1252.2,188.1L1252.8,189.6L1253.4,190.0L1254.1,190.9L1254.6,191.3L1255.2,191.8L1255.8,191.0L1256.3,190.7L1256.9,190.9L1257.4,191.5L1258.0,189.1L1258.6,189.7L1259.1,188.4L1259.7,188.1L1260.3,189.6L1260.8,188.6L1261.4,191.6L1261.9,190.7L1262.5,191.9L1263.1,191.5L1263.6,192.8L1264.2,193.9L1264.8,193.6L1265.3,195.6L1265.9,196.5L1266.4,197.7L1267.0,199.5L1267.6,199.7L1268.1,201.3L1268.7,200.3L1269.3,199.8L1269.8,200.8L1270.4,200.9L1270.9,199.4L1271.5,201.3L1272.2,202.4L1272.8,205.8L1273.4,206.9L1273.9,206.4L1274.5,205.7L1275.1,205.2L1275.6,205.9L1276.3,203.2L1276.9,199.9L1277.5,195.6L1278.1,195.0L1278.6,193.7L1279.2,193.0L1279.8,191.9L1280.4,191.2L1281.0,193.2L1281.6,191.7L1282.2,192.5L1282.8,192.3L1283.3,194.4L1283.9,195.7L1284.4,196.1L1285.0,197.5L1285.6,201.0L1286.3,205.8L1286.9,209.7L1287.5,206.2L1288.1,205.6L1288.8,202.2L1289.3,202.2L1289.9,203.8L1290.4,202.7L1291.0,203.4L1291.6,204.1L1292.2,201.9L1292.8,200.7L1293.4,199.4L1294.1,197.6L1294.7,196.2L1295.3,196.6L1295.9,199.3L1296.6,200.4L1297.2,203.1L1297.8,203.2L1298.3,204.1L1298.9,205.3L1299.4,205.9L1300.0,206.9L1300.6,208.5L1301.3,209.8L1301.9,210.6L1302.5,208.4L1303.1,208.0L1303.8,205.0L1304.4,205.0L1305.0,202.0L1305.6,202.2L1306.3,201.8L1306.9,200.7L1307.5,198.4L1308.1,198.9L1308.8,196.9L1309.4,197.5L1309.9,197.7L1310.5,196.4L1311.1,194.1L1311.6,194.7L1312.3,195.3L1312.9,199.6L1313.5,200.3L1314.1,201.0L1314.7,200.1L1315.3,200.0L1315.9,201.3L1316.6,198.8L1317.2,197.4L1317.8,196.6L1318.4,195.7L1319.1,193.0L1319.7,191.9L1320.3,190.9L1320.9,192.7L1321.5,192.4L1322.1,191.5L1322.7,191.0L1323.3,193.2L1323.8,192.8L1324.4,192.8L1325.0,191.5L1325.6,189.1L1326.3,186.6L1326.9,189.1L1327.5,190.2L1328.1,190.9L1328.8,188.4L1329.4,183.3L1330.0,180.6L1330.8,175.5L1331.5,169.4L1332.1,168.8L1332.6,168.6L1333.2,167.1L1333.8,166.6L1334.3,165.9L1334.9,163.4L1335.4,161.0L1336.0,160.0L1336.6,160.6L1337.3,161.6L1337.9,163.8L1338.5,163.0L1339.1,161.2L1339.7,161.6L1340.3,160.9L1340.9,159.8L1341.4,160.5L1342.0,160.4L1342.6,160.3L1343.1,160.0L1343.7,160.5L1344.3,157.8L1344.8,159.5L1345.4,158.1L1346.1,156.6L1346.8,155.4L1347.4,153.8L1348.1,156.4L1348.8,158.1L1349.3,159.9L1349.9,159.5L1350.4,160.4L1351.0,161.5L1351.6,163.3L1352.2,161.5L1352.8,163.5L1353.4,163.8L1354.0,162.8L1354.6,159.9L1355.1,160.1L1355.7,159.0L1356.3,157.2L1357.0,162.1L1357.8,164.7L1358.3,163.5L1358.9,164.5L1359.4,162.6L1360.0,161.9L1360.6,160.0L1361.3,159.2L1361.9,156.3L1362.5,154.4L1363.1,155.6L1363.8,154.4L1364.3,154.9L1364.9,154.4L1365.4,156.0L1366.0,155.3L1366.7,154.8L1367.4,155.0L1368.1,154.9L1368.6,156.7L1369.2,159.0L1369.8,160.0L1370.4,159.6L1371.0,160.6L1371.6,160.9L1372.2,161.5L1372.8,161.5L1373.3,162.1L1373.9,160.6L1374.4,161.9L1375.0,160.9L1375.6,160.6L1376.1,160.7L1376.7,160.0L1377.3,160.5L1377.8,160.4L1378.5,163.8L1379.1,164.7L1379.7,168.8L1380.3,172.2L1380.9,170.4L1381.5,166.7L1382.1,164.7L1382.8,166.7L1383.4,169.2L1384.0,172.2L1384.6,174.0L1385.1,175.7L1385.7,176.9L1386.3,176.9L1386.9,174.3L1387.5,175.3L1388.1,174.1L1388.8,174.4L1389.4,172.9L1390.0,172.2L1390.6,170.8L1391.1,171.1L1391.7,170.1L1392.3,170.3L1392.8,170.9L1393.4,172.8L1394.0,172.8L1394.6,173.7L1395.3,174.1L1395.9,174.5L1396.5,174.5L1397.1,173.1L1397.7,175.9L1398.3,178.4L1398.8,180.6L1399.5,178.8L1400.2,176.8L1400.9,174.1L1401.5,173.9L1402.2,173.8L1402.8,172.2L1403.4,173.0L1404.1,172.2L1404.7,169.6L1405.3,167.9L1405.9,164.7L1406.6,163.0L1407.2,162.6L1407.8,162.8L1408.4,161.4L1408.9,163.2L1409.5,163.3L1410.1,162.5L1410.6,161.9L1411.3,159.7L1411.9,159.0L1412.5,156.3L1413.1,156.7L1413.6,155.8L1414.2,154.7L1414.8,154.5L1415.3,154.8L1415.9,154.1L1416.6,153.4L1417.2,153.4L1417.8,152.2L1418.4,151.7L1419.1,150.3L1419.7,152.1L1420.3,150.6L1420.9,152.5L1421.6,153.3L1422.2,152.6L1422.8,154.4L1423.4,153.6L1424.0,155.7L1424.6,155.3L1425.3,155.3L1425.8,155.2L1426.4,152.8L1426.9,150.5L1427.5,150.6L1428.1,150.9L1428.6,152.0L1429.2,153.5L1429.8,154.1L1430.3,153.4L1430.9,154.1L1431.5,154.6L1432.1,154.5L1432.8,156.3L1433.3,155.9L1433.9,154.1L1434.4,153.2L1435.0,153.4L1435.6,151.8L1436.1,151.4L1436.7,152.8L1437.3,151.0L1437.8,151.6L1438.4,152.5L1439.0,150.0L1439.6,151.8L1440.3,150.6L1440.9,147.8L1441.5,145.6L1442.1,145.0L1442.7,145.1L1443.3,143.4L1443.8,144.2L1444.4,143.1L1444.9,142.5L1445.5,142.3L1446.1,144.4L1446.6,144.4L1447.2,144.1L1447.8,145.0L1448.3,144.7L1448.9,143.0L1449.4,144.4L1450.0,144.1L1450.6,145.5L1451.3,145.8L1451.9,146.9L1452.4,147.5L1453.0,145.3L1453.6,146.7L1454.1,145.0L1454.7,144.5L1455.3,141.7L1456.0,140.6L1456.6,140.9L1457.2,142.6L1457.8,144.5L1458.4,145.0L1459.1,144.5L1459.7,145.8L1460.3,146.9L1460.9,148.0L1461.5,147.1L1462.1,149.5L1462.8,149.1L1463.3,149.6L1463.9,148.9L1464.4,150.2L1465.0,151.0L1465.6,150.8L1466.1,150.1L1466.7,150.3L1467.3,148.6L1467.8,149.1L1468.4,149.1L1469.0,147.2L1469.6,147.1L1470.3,145.9L1470.8,146.0L1471.4,145.3L1471.9,144.9L1472.5,145.0L1473.1,146.3L1473.6,147.3L1474.2,147.4L1474.8,147.3L1475.4,148.2L1476.0,148.2L1476.6,148.4L1477.2,150.3L1477.8,149.4L1478.4,146.7L1479.1,144.1L1480.0,142.2L1480.6,141.6L1481.2,139.4L1481.9,139.9L1482.5,141.2L1483.5,148.1L1484.2,148.7L1485.0,148.8L1485.6,152.0L1486.2,152.8L1486.9,152.5L1487.5,150.6L1488.2,150.6L1489.0,150.0L1489.8,148.1L1490.6,147.2L1491.4,148.4L1492.2,150.0L1492.9,151.3L1493.5,150.6L1494.1,153.1L1494.6,156.2L1495.3,156.1L1496.0,155.0L1496.6,154.8L1497.2,154.0L1497.9,157.4L1498.5,158.8L1499.1,161.9L1499.8,163.5" fill="none" stroke="#000" stroke-width="1" stroke-linejoin="round"/><text y="47.9" font-size="25.5" font-weight="700" fill="#222"><tspan x="606.2" textLength="45.8" lengthAdjust="spacingAndGlyphs">Net</tspan> <tspan x="659.2" textLength="111.2" lengthAdjust="spacingAndGlyphs">Realised</tspan> <tspan x="777.2" textLength="67.2" lengthAdjust="spacingAndGlyphs">Profit</tspan></text><text transform="translate(846.0,47.9) skewX(-31)" font-size="24" font-weight="700" fill="#222" stroke="#222" stroke-width="0.9">/</text><text y="47.9" font-size="25.5" font-weight="700" fill="#222"><tspan x="863.6" textLength="58.8" lengthAdjust="spacingAndGlyphs">Loss</tspan> <tspan x="929.6" textLength="71.4" lengthAdjust="spacingAndGlyphs">[USD]</tspan></text><line x1="565.5" x2="590.5" y1="80.7" y2="80.7" stroke="#000" stroke-width="1"/><text x="595.2" y="85" font-size="12.5" text-anchor="start" fill="#444" font-weight="400" textLength="31.2" lengthAdjust="spacingAndGlyphs" >Price</text><rect x="636" y="78.3" width="25.3" height="5.4" fill="#1fd18b"/><text x="665.4" y="85" font-size="12.5" text-anchor="start" fill="#444" font-weight="400" textLength="153.6" lengthAdjust="spacingAndGlyphs" >Net Realised Profit [USD]</text><rect x="845.7" y="78.3" width="25.3" height="5.4" fill="#fb3b61"/><text x="875.1" y="85" font-size="12.5" text-anchor="start" fill="#444" font-weight="400" textLength="150.6" lengthAdjust="spacingAndGlyphs" >Net Realised Loss [USD]</text><rect x="88.6" y="42.4" width="72.5" height="27" rx="2" fill="#fff" stroke="#f8f8f8" stroke-width="1"/><text x="98.5" y="58.7" font-size="10.5" text-anchor="start" fill="#444" font-weight="400" textLength="33" lengthAdjust="spacingAndGlyphs" >Info On</text><path d="M148.8,51.4h7.1l-3.55,7z" fill="#000"/><rect x="1431.8" y="42.7" width="106.7" height="26.7" rx="2" fill="#fff" stroke="#f8f8f8" stroke-width="1"/><text x="1441.6" y="58.7" font-size="10.5" text-anchor="start" fill="#444" font-weight="400" textLength="63.5" lengthAdjust="spacingAndGlyphs" >Default Zoom</text><path d="M1526.3,51.4h7.1l-3.55,7z" fill="#000"/><text x="58.3" y="162.6" font-size="11.5" text-anchor="end" fill="#222" font-weight="400" ><tspan font-size="10.12" dy="0.00" letter-spacing="0.75">1</tspan><tspan font-size="10.12" dy="0.00" letter-spacing="0.75">0</tspan><tspan font-size="10.12" dy="0.00" letter-spacing="0.75">0</tspan><tspan dy="0.00">k</tspan></text><text x="58.3" y="360.6" font-size="11.5" text-anchor="end" fill="#222" font-weight="400" ><tspan font-size="10.12" dy="0.00" letter-spacing="0.75">1</tspan><tspan font-size="10.12" dy="0.00" letter-spacing="0.75">0</tspan><tspan dy="0.00">k</tspan></text><text x="58.3" y="558.6" font-size="11.5" text-anchor="end" fill="#222" font-weight="400" ><tspan font-size="10.12" dy="0.00" letter-spacing="0.75">1</tspan><tspan font-size="10.12" dy="0.00" letter-spacing="0.75">0</tspan><tspan font-size="10.12" dy="0.00" letter-spacing="0.75">0</tspan><tspan font-size="10.12" dy="0.00" letter-spacing="0.75">0</tspan></text><text x="58.3" y="756.6" font-size="11.5" text-anchor="end" fill="#222" font-weight="400" ><tspan font-size="10.12" dy="0.00" letter-spacing="0.75">1</tspan><tspan font-size="10.12" dy="0.00" letter-spacing="0.75">0</tspan><tspan font-size="10.12" dy="0.00" letter-spacing="0.75">0</tspan></text><text x="58.8" y="101.59606085853166" font-size="7.6" text-anchor="end" fill="#333" font-weight="400" >2</text><text x="58.8" y="222.90393914146836" font-size="8.6" text-anchor="end" fill="#333" font-weight="400" >5</text><text x="58.8" y="299.5960608585317" font-size="7.6" text-anchor="end" fill="#333" font-weight="400" >2</text><text x="58.8" y="420.9039391414683" font-size="8.6" text-anchor="end" fill="#333" font-weight="400" >5</text><text x="58.8" y="497.5960608585317" font-size="7.6" text-anchor="end" fill="#333" font-weight="400" >2</text><text x="58.8" y="618.9039391414683" font-size="8.6" text-anchor="end" fill="#333" font-weight="400" >5</text><text x="58.8" y="695.5960608585317" font-size="7.6" text-anchor="end" fill="#333" font-weight="400" >2</text><text x="1545" y="103" font-size="11.5" text-anchor="start" fill="#222" font-weight="400" ><tspan font-size="10.12" dy="1.61" letter-spacing="0.75">4</tspan><tspan font-size="10.12" dy="-1.61" letter-spacing="0.75">0</tspan><tspan dy="0.00">B</tspan></text><text x="1545" y="212" font-size="11.5" text-anchor="start" fill="#222" font-weight="400" ><tspan font-size="10.12" dy="1.61" letter-spacing="0.75">3</tspan><tspan font-size="10.12" dy="-1.61" letter-spacing="0.75">0</tspan><tspan dy="0.00">B</tspan></text><text x="1545" y="321" font-size="11.5" text-anchor="start" fill="#222" font-weight="400" ><tspan font-size="10.12" dy="0.00" letter-spacing="0.75">2</tspan><tspan font-size="10.12" dy="0.00" letter-spacing="0.75">0</tspan><tspan dy="0.00">B</tspan></text><text x="1545" y="430" font-size="11.5" text-anchor="start" fill="#222" font-weight="400" ><tspan font-size="10.12" dy="0.00" letter-spacing="0.75">1</tspan><tspan font-size="10.12" dy="0.00" letter-spacing="0.75">0</tspan><tspan dy="0.00">B</tspan></text><text x="1545" y="539" font-size="11.5" text-anchor="start" fill="#222" font-weight="400" ><tspan font-size="10.12" dy="0.00" letter-spacing="0.75">0</tspan></text><text x="1545" y="648" font-size="11.5" text-anchor="start" fill="#222" font-weight="400" ><tspan dy="0.00">−</tspan><tspan font-size="10.12" dy="0.00" letter-spacing="0.75">1</tspan><tspan font-size="10.12" dy="0.00" letter-spacing="0.75">0</tspan><tspan dy="0.00">B</tspan></text><text x="1545" y="757" font-size="11.5" text-anchor="start" fill="#222" font-weight="400" ><tspan dy="0.00">−</tspan><tspan font-size="10.12" dy="0.00" letter-spacing="0.75">2</tspan><tspan font-size="10.12" dy="0.00" letter-spacing="0.75">0</tspan><tspan dy="0.00">B</tspan></text><text x="191.3" y="772" font-size="11.5" text-anchor="middle" fill="#444" font-weight="400" ><tspan font-size="10.12" dy="0.00" letter-spacing="0.75">0</tspan><tspan font-size="10.12" dy="0.00" letter-spacing="0.75">1</tspan><tspan dy="0.00">-</tspan><tspan dy="0.00">J</tspan><tspan dy="0.00">a</tspan><tspan dy="0.00">n</tspan><tspan dy="0.00">-</tspan><tspan font-size="10.12" dy="0.00" letter-spacing="0.75">1</tspan><tspan dy="0.00">8</tspan></text><text x="357.4" y="772" font-size="11.5" text-anchor="middle" fill="#444" font-weight="400" ><tspan font-size="10.12" dy="0.00" letter-spacing="0.75">0</tspan><tspan font-size="10.12" dy="0.00" letter-spacing="0.75">1</tspan><tspan dy="0.00">-</tspan><tspan dy="0.00">J</tspan><tspan dy="0.00">a</tspan><tspan dy="0.00">n</tspan><tspan dy="0.00">-</tspan><tspan font-size="10.12" dy="0.00" letter-spacing="0.75">1</tspan><tspan font-size="10.12" dy="1.61" letter-spacing="0.75">9</tspan></text><text x="523.4" y="772" font-size="11.5" text-anchor="middle" fill="#444" font-weight="400" ><tspan font-size="10.12" dy="0.00" letter-spacing="0.75">0</tspan><tspan font-size="10.12" dy="0.00" letter-spacing="0.75">1</tspan><tspan dy="0.00">-</tspan><tspan dy="0.00">J</tspan><tspan dy="0.00">a</tspan><tspan dy="0.00">n</tspan><tspan dy="0.00">-</tspan><tspan font-size="10.12" dy="0.00" letter-spacing="0.75">2</tspan><tspan font-size="10.12" dy="0.00" letter-spacing="0.75">0</tspan></text><text x="689.9" y="772" font-size="11.5" text-anchor="middle" fill="#444" font-weight="400" ><tspan font-size="10.12" dy="0.00" letter-spacing="0.75">0</tspan><tspan font-size="10.12" dy="0.00" letter-spacing="0.75">1</tspan><tspan dy="0.00">-</tspan><tspan dy="0.00">J</tspan><tspan dy="0.00">a</tspan><tspan dy="0.00">n</tspan><tspan dy="0.00">-</tspan><tspan font-size="10.12" dy="0.00" letter-spacing="0.75">2</tspan><tspan font-size="10.12" dy="0.00" letter-spacing="0.75">1</tspan></text><text x="856.0" y="772" font-size="11.5" text-anchor="middle" fill="#444" font-weight="400" ><tspan font-size="10.12" dy="0.00" letter-spacing="0.75">0</tspan><tspan font-size="10.12" dy="0.00" letter-spacing="0.75">1</tspan><tspan dy="0.00">-</tspan><tspan dy="0.00">J</tspan><tspan dy="0.00">a</tspan><tspan dy="0.00">n</tspan><tspan dy="0.00">-</tspan><tspan font-size="10.12" dy="0.00" letter-spacing="0.75">2</tspan><tspan font-size="10.12" dy="0.00" letter-spacing="0.75">2</tspan></text><text x="1022.0" y="772" font-size="11.5" text-anchor="middle" fill="#444" font-weight="400" ><tspan font-size="10.12" dy="0.00" letter-spacing="0.75">0</tspan><tspan font-size="10.12" dy="0.00" letter-spacing="0.75">1</tspan><tspan dy="0.00">-</tspan><tspan dy="0.00">J</tspan><tspan dy="0.00">a</tspan><tspan dy="0.00">n</tspan><tspan dy="0.00">-</tspan><tspan font-size="10.12" dy="0.00" letter-spacing="0.75">2</tspan><tspan font-size="10.12" dy="1.61" letter-spacing="0.75">3</tspan></text><text x="1188.1" y="772" font-size="11.5" text-anchor="middle" fill="#444" font-weight="400" ><tspan font-size="10.12" dy="0.00" letter-spacing="0.75">0</tspan><tspan font-size="10.12" dy="0.00" letter-spacing="0.75">1</tspan><tspan dy="0.00">-</tspan><tspan dy="0.00">J</tspan><tspan dy="0.00">a</tspan><tspan dy="0.00">n</tspan><tspan dy="0.00">-</tspan><tspan font-size="10.12" dy="0.00" letter-spacing="0.75">2</tspan><tspan font-size="10.12" dy="1.61" letter-spacing="0.75">4</tspan></text><text x="1354.6" y="772" font-size="11.5" text-anchor="middle" fill="#444" font-weight="400" ><tspan font-size="10.12" dy="0.00" letter-spacing="0.75">0</tspan><tspan font-size="10.12" dy="0.00" letter-spacing="0.75">1</tspan><tspan dy="0.00">-</tspan><tspan dy="0.00">J</tspan><tspan dy="0.00">a</tspan><tspan dy="0.00">n</tspan><tspan dy="0.00">-</tspan><tspan font-size="10.12" dy="0.00" letter-spacing="0.75">2</tspan><tspan font-size="10.12" dy="1.61" letter-spacing="0.75">5</tspan></text><text x="1520.7" y="772" font-size="11.5" text-anchor="middle" fill="#444" font-weight="400" ><tspan font-size="10.12" dy="0.00" letter-spacing="0.75">0</tspan><tspan font-size="10.12" dy="0.00" letter-spacing="0.75">1</tspan><tspan dy="0.00">-</tspan><tspan dy="0.00">J</tspan><tspan dy="0.00">a</tspan><tspan dy="0.00">n</tspan><tspan dy="0.00">-</tspan><tspan font-size="10.12" dy="0.00" letter-spacing="0.75">2</tspan><tspan dy="0.00">6</tspan></text><text transform="translate(21.2,425.8) rotate(-90)" font-size="14.5" text-anchor="middle" fill="#111" textLength="76.5" lengthAdjust="spacingAndGlyphs">Price [USD]</text><text transform="translate(1596.4,425.8) rotate(-90)" font-size="14.5" text-anchor="middle" fill="#111" textLength="202" lengthAdjust="spacingAndGlyphs">Net Realised Profit/Loss USD</text></svg>
</body></html>
